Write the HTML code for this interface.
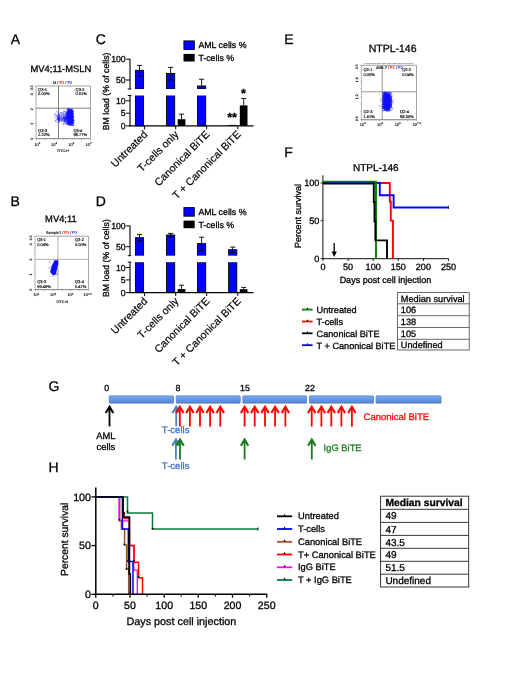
<!DOCTYPE html>
<html lang="en"><head><meta charset="utf-8"><title>Figure</title>
<style>html,body{margin:0;padding:0;background:#fff;}svg{display:block;}text{font-family:"Liberation Sans", Arial, Helvetica, sans-serif;text-rendering:geometricPrecision;}</style></head><body>
<svg width="520" height="693" viewBox="0 0 520 693">
<rect x="0" y="0" width="520" height="693" fill="#fff"/>
<g opacity="0.999">
<text x="10.8" y="44.0" font-size="14" text-anchor="start" fill="#000" stroke="#000" stroke-width="0.3">A</text>
<text x="10.4" y="205.8" font-size="14" text-anchor="start" fill="#000" stroke="#000" stroke-width="0.3">B</text>
<text x="95.8" y="44.0" font-size="14" text-anchor="start" fill="#000" stroke="#000" stroke-width="0.3">C</text>
<text x="95.8" y="205.8" font-size="14" text-anchor="start" fill="#000" stroke="#000" stroke-width="0.3">D</text>
<text x="284.2" y="44.0" font-size="14" text-anchor="start" fill="#000" stroke="#000" stroke-width="0.3">E</text>
<text x="284.2" y="156.5" font-size="14" text-anchor="start" fill="#000" stroke="#000" stroke-width="0.3">F</text>
<text x="48.5" y="391.2" font-size="14" text-anchor="start" fill="#000" stroke="#000" stroke-width="0.3">G</text>
<text x="48.5" y="471.8" font-size="14" text-anchor="start" fill="#000" stroke="#000" stroke-width="0.3">H</text>
<defs><filter id="bl" x="-30%" y="-30%" width="160%" height="160%"><feGaussianBlur stdDeviation="0.45"/></filter><filter id="bl2" x="-30%" y="-30%" width="160%" height="160%"><feGaussianBlur stdDeviation="0.8"/></filter><filter id="tb" x="-10%" y="-30%" width="120%" height="160%"><feGaussianBlur stdDeviation="0.22"/></filter></defs>
<text x="60.9" y="72.4" font-size="9.4" text-anchor="middle" fill="#000" stroke="#000" stroke-width="0.3">MV4;11-MSLN</text>
<g>
<path d="M36.2 86.0H90.5V138.5H36.2" fill="none" stroke="#8c8c8c" stroke-width="0.8"/>
<line x1="36.2" y1="86.0" x2="36.2" y2="138.5" stroke="#8c8c8c" stroke-width="0.5"/>
<line x1="58.5" y1="86.0" x2="58.5" y2="138.5" stroke="#555" stroke-width="0.75"/>
<line x1="36.2" y1="108.2" x2="90.5" y2="108.2" stroke="#555" stroke-width="0.75"/>
<text transform="translate(62.6 83.5) scale(0.39)" font-size="10" text-anchor="middle" fill="#1a1a1a" stroke="#1a1a1a" stroke-width="0.4">M / <tspan fill="#f00" stroke="#f00">P1</tspan> / <tspan fill="#22f" stroke="#22f">P2</tspan></text>
<text transform="translate(38.1 90.8) scale(0.4)" font-size="10" text-anchor="start" fill="#1a1a1a" stroke="#1a1a1a" stroke-width="0.5">Q3-1</text>
<text transform="translate(38.1 95.39999999999999) scale(0.4)" font-size="10" text-anchor="start" fill="#1a1a1a" stroke="#1a1a1a" stroke-width="0.5">0.00%</text>
<text transform="translate(75.6 90.8) scale(0.4)" font-size="10" text-anchor="start" fill="#1a1a1a" stroke="#1a1a1a" stroke-width="0.5">Q3-2</text>
<text transform="translate(75.6 95.39999999999999) scale(0.4)" font-size="10" text-anchor="start" fill="#1a1a1a" stroke="#1a1a1a" stroke-width="0.5">0.01%</text>
<text transform="translate(38.1 131.6) scale(0.4)" font-size="10" text-anchor="start" fill="#1a1a1a" stroke="#1a1a1a" stroke-width="0.5">Q3-3</text>
<text transform="translate(38.1 136.2) scale(0.4)" font-size="10" text-anchor="start" fill="#1a1a1a" stroke="#1a1a1a" stroke-width="0.5">1.22%</text>
<text transform="translate(73.4 131.6) scale(0.4)" font-size="10" text-anchor="start" fill="#1a1a1a" stroke="#1a1a1a" stroke-width="0.5">Q3-4</text>
<text transform="translate(73.4 136.2) scale(0.4)" font-size="10" text-anchor="start" fill="#1a1a1a" stroke="#1a1a1a" stroke-width="0.5">98.77%</text>
<text transform="translate(37.4 145.6) scale(0.4)" font-size="10" text-anchor="middle" fill="#1a1a1a" stroke="#1a1a1a" stroke-width="0.4">10<tspan dy="-4" font-size="7">1</tspan></text>
<text transform="translate(54.0 145.6) scale(0.4)" font-size="10" text-anchor="middle" fill="#1a1a1a" stroke="#1a1a1a" stroke-width="0.4">10<tspan dy="-4" font-size="7">3</tspan></text>
<text transform="translate(71.4 145.6) scale(0.4)" font-size="10" text-anchor="middle" fill="#1a1a1a" stroke="#1a1a1a" stroke-width="0.4">10<tspan dy="-4" font-size="7">5</tspan></text>
<text transform="translate(89.0 145.6) scale(0.4)" font-size="10" text-anchor="middle" fill="#1a1a1a" stroke="#1a1a1a" stroke-width="0.4">10<tspan dy="-4" font-size="7">7.</tspan></text>
<text transform="translate(63 151.8) scale(0.36)" font-size="10" text-anchor="middle" fill="#1a1a1a" stroke="#1a1a1a" stroke-width="0.5">FITC-H</text>
<line x1="36.2" y1="138.5" x2="36.2" y2="140.1" stroke="#444" stroke-width="0.35"/>
<line x1="37.21" y1="138.5" x2="37.21" y2="139.3" stroke="#444" stroke-width="0.35"/>
<line x1="38.21" y1="138.5" x2="38.21" y2="139.3" stroke="#444" stroke-width="0.35"/>
<line x1="39.22" y1="138.5" x2="39.22" y2="139.3" stroke="#444" stroke-width="0.35"/>
<line x1="40.22" y1="138.5" x2="40.22" y2="139.3" stroke="#444" stroke-width="0.35"/>
<line x1="41.23" y1="138.5" x2="41.23" y2="139.3" stroke="#444" stroke-width="0.35"/>
<line x1="42.23" y1="138.5" x2="42.23" y2="139.3" stroke="#444" stroke-width="0.35"/>
<line x1="43.24" y1="138.5" x2="43.24" y2="139.3" stroke="#444" stroke-width="0.35"/>
<line x1="44.24" y1="138.5" x2="44.24" y2="139.3" stroke="#444" stroke-width="0.35"/>
<line x1="45.25" y1="138.5" x2="45.25" y2="140.1" stroke="#444" stroke-width="0.35"/>
<line x1="46.26" y1="138.5" x2="46.26" y2="139.3" stroke="#444" stroke-width="0.35"/>
<line x1="47.26" y1="138.5" x2="47.26" y2="139.3" stroke="#444" stroke-width="0.35"/>
<line x1="48.27" y1="138.5" x2="48.27" y2="139.3" stroke="#444" stroke-width="0.35"/>
<line x1="49.27" y1="138.5" x2="49.27" y2="139.3" stroke="#444" stroke-width="0.35"/>
<line x1="50.28" y1="138.5" x2="50.28" y2="139.3" stroke="#444" stroke-width="0.35"/>
<line x1="51.28" y1="138.5" x2="51.28" y2="139.3" stroke="#444" stroke-width="0.35"/>
<line x1="52.29" y1="138.5" x2="52.29" y2="139.3" stroke="#444" stroke-width="0.35"/>
<line x1="53.29" y1="138.5" x2="53.29" y2="139.3" stroke="#444" stroke-width="0.35"/>
<line x1="54.3" y1="138.5" x2="54.3" y2="140.1" stroke="#444" stroke-width="0.35"/>
<line x1="55.31" y1="138.5" x2="55.31" y2="139.3" stroke="#444" stroke-width="0.35"/>
<line x1="56.31" y1="138.5" x2="56.31" y2="139.3" stroke="#444" stroke-width="0.35"/>
<line x1="57.32" y1="138.5" x2="57.32" y2="139.3" stroke="#444" stroke-width="0.35"/>
<line x1="58.32" y1="138.5" x2="58.32" y2="139.3" stroke="#444" stroke-width="0.35"/>
<line x1="59.33" y1="138.5" x2="59.33" y2="139.3" stroke="#444" stroke-width="0.35"/>
<line x1="60.33" y1="138.5" x2="60.33" y2="139.3" stroke="#444" stroke-width="0.35"/>
<line x1="61.34" y1="138.5" x2="61.34" y2="139.3" stroke="#444" stroke-width="0.35"/>
<line x1="62.34" y1="138.5" x2="62.34" y2="139.3" stroke="#444" stroke-width="0.35"/>
<line x1="63.35" y1="138.5" x2="63.35" y2="140.1" stroke="#444" stroke-width="0.35"/>
<line x1="64.36" y1="138.5" x2="64.36" y2="139.3" stroke="#444" stroke-width="0.35"/>
<line x1="65.36" y1="138.5" x2="65.36" y2="139.3" stroke="#444" stroke-width="0.35"/>
<line x1="66.37" y1="138.5" x2="66.37" y2="139.3" stroke="#444" stroke-width="0.35"/>
<line x1="67.37" y1="138.5" x2="67.37" y2="139.3" stroke="#444" stroke-width="0.35"/>
<line x1="68.38" y1="138.5" x2="68.38" y2="139.3" stroke="#444" stroke-width="0.35"/>
<line x1="69.38" y1="138.5" x2="69.38" y2="139.3" stroke="#444" stroke-width="0.35"/>
<line x1="70.39" y1="138.5" x2="70.39" y2="139.3" stroke="#444" stroke-width="0.35"/>
<line x1="71.39" y1="138.5" x2="71.39" y2="139.3" stroke="#444" stroke-width="0.35"/>
<line x1="72.4" y1="138.5" x2="72.4" y2="140.1" stroke="#444" stroke-width="0.35"/>
<line x1="73.41" y1="138.5" x2="73.41" y2="139.3" stroke="#444" stroke-width="0.35"/>
<line x1="74.41" y1="138.5" x2="74.41" y2="139.3" stroke="#444" stroke-width="0.35"/>
<line x1="75.42" y1="138.5" x2="75.42" y2="139.3" stroke="#444" stroke-width="0.35"/>
<line x1="76.42" y1="138.5" x2="76.42" y2="139.3" stroke="#444" stroke-width="0.35"/>
<line x1="77.43" y1="138.5" x2="77.43" y2="139.3" stroke="#444" stroke-width="0.35"/>
<line x1="78.43" y1="138.5" x2="78.43" y2="139.3" stroke="#444" stroke-width="0.35"/>
<line x1="79.44" y1="138.5" x2="79.44" y2="139.3" stroke="#444" stroke-width="0.35"/>
<line x1="80.44" y1="138.5" x2="80.44" y2="139.3" stroke="#444" stroke-width="0.35"/>
<line x1="81.45" y1="138.5" x2="81.45" y2="140.1" stroke="#444" stroke-width="0.35"/>
<line x1="82.46" y1="138.5" x2="82.46" y2="139.3" stroke="#444" stroke-width="0.35"/>
<line x1="83.46" y1="138.5" x2="83.46" y2="139.3" stroke="#444" stroke-width="0.35"/>
<line x1="84.47" y1="138.5" x2="84.47" y2="139.3" stroke="#444" stroke-width="0.35"/>
<line x1="85.47" y1="138.5" x2="85.47" y2="139.3" stroke="#444" stroke-width="0.35"/>
<line x1="86.48" y1="138.5" x2="86.48" y2="139.3" stroke="#444" stroke-width="0.35"/>
<line x1="87.48" y1="138.5" x2="87.48" y2="139.3" stroke="#444" stroke-width="0.35"/>
<line x1="88.49" y1="138.5" x2="88.49" y2="139.3" stroke="#444" stroke-width="0.35"/>
<line x1="89.49" y1="138.5" x2="89.49" y2="139.3" stroke="#444" stroke-width="0.35"/>
<line x1="90.5" y1="138.5" x2="90.5" y2="140.1" stroke="#444" stroke-width="0.35"/>
<line x1="34.7" y1="86.0" x2="36.2" y2="86.0" stroke="#444" stroke-width="0.35"/>
<line x1="35.4" y1="87.88" x2="36.2" y2="87.88" stroke="#444" stroke-width="0.35"/>
<line x1="35.4" y1="89.75" x2="36.2" y2="89.75" stroke="#444" stroke-width="0.35"/>
<line x1="35.4" y1="91.62" x2="36.2" y2="91.62" stroke="#444" stroke-width="0.35"/>
<line x1="34.7" y1="93.5" x2="36.2" y2="93.5" stroke="#444" stroke-width="0.35"/>
<line x1="35.4" y1="95.38" x2="36.2" y2="95.38" stroke="#444" stroke-width="0.35"/>
<line x1="35.4" y1="97.25" x2="36.2" y2="97.25" stroke="#444" stroke-width="0.35"/>
<line x1="35.4" y1="99.12" x2="36.2" y2="99.12" stroke="#444" stroke-width="0.35"/>
<line x1="34.7" y1="101.0" x2="36.2" y2="101.0" stroke="#444" stroke-width="0.35"/>
<line x1="35.4" y1="102.88" x2="36.2" y2="102.88" stroke="#444" stroke-width="0.35"/>
<line x1="35.4" y1="104.75" x2="36.2" y2="104.75" stroke="#444" stroke-width="0.35"/>
<line x1="35.4" y1="106.62" x2="36.2" y2="106.62" stroke="#444" stroke-width="0.35"/>
<line x1="34.7" y1="108.5" x2="36.2" y2="108.5" stroke="#444" stroke-width="0.35"/>
<line x1="35.4" y1="110.38" x2="36.2" y2="110.38" stroke="#444" stroke-width="0.35"/>
<line x1="35.4" y1="112.25" x2="36.2" y2="112.25" stroke="#444" stroke-width="0.35"/>
<line x1="35.4" y1="114.12" x2="36.2" y2="114.12" stroke="#444" stroke-width="0.35"/>
<line x1="34.7" y1="116.0" x2="36.2" y2="116.0" stroke="#444" stroke-width="0.35"/>
<line x1="35.4" y1="117.88" x2="36.2" y2="117.88" stroke="#444" stroke-width="0.35"/>
<line x1="35.4" y1="119.75" x2="36.2" y2="119.75" stroke="#444" stroke-width="0.35"/>
<line x1="35.4" y1="121.62" x2="36.2" y2="121.62" stroke="#444" stroke-width="0.35"/>
<line x1="34.7" y1="123.5" x2="36.2" y2="123.5" stroke="#444" stroke-width="0.35"/>
<line x1="35.4" y1="125.38" x2="36.2" y2="125.38" stroke="#444" stroke-width="0.35"/>
<line x1="35.4" y1="127.25" x2="36.2" y2="127.25" stroke="#444" stroke-width="0.35"/>
<line x1="35.4" y1="129.12" x2="36.2" y2="129.12" stroke="#444" stroke-width="0.35"/>
<line x1="34.7" y1="131.0" x2="36.2" y2="131.0" stroke="#444" stroke-width="0.35"/>
<line x1="35.4" y1="132.88" x2="36.2" y2="132.88" stroke="#444" stroke-width="0.35"/>
<line x1="35.4" y1="134.75" x2="36.2" y2="134.75" stroke="#444" stroke-width="0.35"/>
<line x1="35.4" y1="136.62" x2="36.2" y2="136.62" stroke="#444" stroke-width="0.35"/>
<line x1="34.7" y1="138.5" x2="36.2" y2="138.5" stroke="#444" stroke-width="0.35"/>
<text transform="translate(32.6 87.6) rotate(-90) scale(0.33999999999999997)" font-size="10" text-anchor="middle" fill="#1a1a1a" stroke="#1a1a1a" stroke-width="0.5">3.5</text>
<text transform="translate(32.6 94.2) rotate(-90) scale(0.33999999999999997)" font-size="10" text-anchor="middle" fill="#1a1a1a" stroke="#1a1a1a" stroke-width="0.5">3</text>
<text transform="translate(32.6 109.2) rotate(-90) scale(0.33999999999999997)" font-size="10" text-anchor="middle" fill="#1a1a1a" stroke="#1a1a1a" stroke-width="0.5">2</text>
<text transform="translate(32.6 123.8) rotate(-90) scale(0.33999999999999997)" font-size="10" text-anchor="middle" fill="#1a1a1a" stroke="#1a1a1a" stroke-width="0.5">1</text>
<text transform="translate(32.6 138.5) rotate(-90) scale(0.33999999999999997)" font-size="10" text-anchor="middle" fill="#1a1a1a" stroke="#1a1a1a" stroke-width="0.5">0</text>
</g>
<text x="60.9" y="222.2" font-size="9.4" text-anchor="middle" fill="#000" stroke="#000" stroke-width="0.3">MV4;11</text>
<g>
<path d="M35.2 236.2H88.6V289.5H35.2" fill="none" stroke="#8c8c8c" stroke-width="0.8"/>
<line x1="35.2" y1="236.2" x2="35.2" y2="289.5" stroke="#8c8c8c" stroke-width="0.5"/>
<line x1="57.9" y1="236.2" x2="57.9" y2="289.5" stroke="#9a9a9a" stroke-width="0.75"/>
<line x1="35.2" y1="259.4" x2="88.6" y2="259.4" stroke="#9a9a9a" stroke-width="0.75"/>
<text transform="translate(61.4 234.0) scale(0.39)" font-size="10" text-anchor="middle" fill="#1a1a1a" stroke="#1a1a1a" stroke-width="0.4">Sample1 / <tspan fill="#f00" stroke="#f00">P1</tspan> / <tspan fill="#22f" stroke="#22f">P2</tspan></text>
<text transform="translate(37.2 241.4) scale(0.4)" font-size="10" text-anchor="start" fill="#1a1a1a" stroke="#1a1a1a" stroke-width="0.5">Q3-1</text>
<text transform="translate(37.2 246.0) scale(0.4)" font-size="10" text-anchor="start" fill="#1a1a1a" stroke="#1a1a1a" stroke-width="0.5">0.04%</text>
<text transform="translate(75.0 241.4) scale(0.4)" font-size="10" text-anchor="start" fill="#1a1a1a" stroke="#1a1a1a" stroke-width="0.5">Q3-2</text>
<text transform="translate(75.0 246.0) scale(0.4)" font-size="10" text-anchor="start" fill="#1a1a1a" stroke="#1a1a1a" stroke-width="0.5">0.00%</text>
<text transform="translate(37.2 283.2) scale(0.4)" font-size="10" text-anchor="start" fill="#1a1a1a" stroke="#1a1a1a" stroke-width="0.5">Q3-3</text>
<text transform="translate(37.2 287.8) scale(0.4)" font-size="10" text-anchor="start" fill="#1a1a1a" stroke="#1a1a1a" stroke-width="0.5">99.49%</text>
<text transform="translate(75.0 283.2) scale(0.4)" font-size="10" text-anchor="start" fill="#1a1a1a" stroke="#1a1a1a" stroke-width="0.5">Q3-4</text>
<text transform="translate(75.0 287.8) scale(0.4)" font-size="10" text-anchor="start" fill="#1a1a1a" stroke="#1a1a1a" stroke-width="0.5">0.47%</text>
<text transform="translate(36.4 296.3) scale(0.4)" font-size="10" text-anchor="middle" fill="#1a1a1a" stroke="#1a1a1a" stroke-width="0.4">10<tspan dy="-4" font-size="7">1</tspan></text>
<text transform="translate(53.0 296.3) scale(0.4)" font-size="10" text-anchor="middle" fill="#1a1a1a" stroke="#1a1a1a" stroke-width="0.4">10<tspan dy="-4" font-size="7">3</tspan></text>
<text transform="translate(70.4 296.3) scale(0.4)" font-size="10" text-anchor="middle" fill="#1a1a1a" stroke="#1a1a1a" stroke-width="0.4">10<tspan dy="-4" font-size="7">5</tspan></text>
<text transform="translate(87.6 296.3) scale(0.4)" font-size="10" text-anchor="middle" fill="#1a1a1a" stroke="#1a1a1a" stroke-width="0.4">10<tspan dy="-4" font-size="7">7.1</tspan></text>
<text transform="translate(62.3 302.8) scale(0.36)" font-size="10" text-anchor="middle" fill="#1a1a1a" stroke="#1a1a1a" stroke-width="0.5">FITC-H</text>
<line x1="35.2" y1="289.5" x2="35.2" y2="291.1" stroke="#444" stroke-width="0.35"/>
<line x1="36.19" y1="289.5" x2="36.19" y2="290.3" stroke="#444" stroke-width="0.35"/>
<line x1="37.18" y1="289.5" x2="37.18" y2="290.3" stroke="#444" stroke-width="0.35"/>
<line x1="38.17" y1="289.5" x2="38.17" y2="290.3" stroke="#444" stroke-width="0.35"/>
<line x1="39.16" y1="289.5" x2="39.16" y2="290.3" stroke="#444" stroke-width="0.35"/>
<line x1="40.14" y1="289.5" x2="40.14" y2="290.3" stroke="#444" stroke-width="0.35"/>
<line x1="41.13" y1="289.5" x2="41.13" y2="290.3" stroke="#444" stroke-width="0.35"/>
<line x1="42.12" y1="289.5" x2="42.12" y2="290.3" stroke="#444" stroke-width="0.35"/>
<line x1="43.11" y1="289.5" x2="43.11" y2="290.3" stroke="#444" stroke-width="0.35"/>
<line x1="44.1" y1="289.5" x2="44.1" y2="291.1" stroke="#444" stroke-width="0.35"/>
<line x1="45.09" y1="289.5" x2="45.09" y2="290.3" stroke="#444" stroke-width="0.35"/>
<line x1="46.08" y1="289.5" x2="46.08" y2="290.3" stroke="#444" stroke-width="0.35"/>
<line x1="47.07" y1="289.5" x2="47.07" y2="290.3" stroke="#444" stroke-width="0.35"/>
<line x1="48.06" y1="289.5" x2="48.06" y2="290.3" stroke="#444" stroke-width="0.35"/>
<line x1="49.04" y1="289.5" x2="49.04" y2="290.3" stroke="#444" stroke-width="0.35"/>
<line x1="50.03" y1="289.5" x2="50.03" y2="290.3" stroke="#444" stroke-width="0.35"/>
<line x1="51.02" y1="289.5" x2="51.02" y2="290.3" stroke="#444" stroke-width="0.35"/>
<line x1="52.01" y1="289.5" x2="52.01" y2="290.3" stroke="#444" stroke-width="0.35"/>
<line x1="53.0" y1="289.5" x2="53.0" y2="291.1" stroke="#444" stroke-width="0.35"/>
<line x1="53.99" y1="289.5" x2="53.99" y2="290.3" stroke="#444" stroke-width="0.35"/>
<line x1="54.98" y1="289.5" x2="54.98" y2="290.3" stroke="#444" stroke-width="0.35"/>
<line x1="55.97" y1="289.5" x2="55.97" y2="290.3" stroke="#444" stroke-width="0.35"/>
<line x1="56.96" y1="289.5" x2="56.96" y2="290.3" stroke="#444" stroke-width="0.35"/>
<line x1="57.94" y1="289.5" x2="57.94" y2="290.3" stroke="#444" stroke-width="0.35"/>
<line x1="58.93" y1="289.5" x2="58.93" y2="290.3" stroke="#444" stroke-width="0.35"/>
<line x1="59.92" y1="289.5" x2="59.92" y2="290.3" stroke="#444" stroke-width="0.35"/>
<line x1="60.91" y1="289.5" x2="60.91" y2="290.3" stroke="#444" stroke-width="0.35"/>
<line x1="61.9" y1="289.5" x2="61.9" y2="291.1" stroke="#444" stroke-width="0.35"/>
<line x1="62.89" y1="289.5" x2="62.89" y2="290.3" stroke="#444" stroke-width="0.35"/>
<line x1="63.88" y1="289.5" x2="63.88" y2="290.3" stroke="#444" stroke-width="0.35"/>
<line x1="64.87" y1="289.5" x2="64.87" y2="290.3" stroke="#444" stroke-width="0.35"/>
<line x1="65.86" y1="289.5" x2="65.86" y2="290.3" stroke="#444" stroke-width="0.35"/>
<line x1="66.84" y1="289.5" x2="66.84" y2="290.3" stroke="#444" stroke-width="0.35"/>
<line x1="67.83" y1="289.5" x2="67.83" y2="290.3" stroke="#444" stroke-width="0.35"/>
<line x1="68.82" y1="289.5" x2="68.82" y2="290.3" stroke="#444" stroke-width="0.35"/>
<line x1="69.81" y1="289.5" x2="69.81" y2="290.3" stroke="#444" stroke-width="0.35"/>
<line x1="70.8" y1="289.5" x2="70.8" y2="291.1" stroke="#444" stroke-width="0.35"/>
<line x1="71.79" y1="289.5" x2="71.79" y2="290.3" stroke="#444" stroke-width="0.35"/>
<line x1="72.78" y1="289.5" x2="72.78" y2="290.3" stroke="#444" stroke-width="0.35"/>
<line x1="73.77" y1="289.5" x2="73.77" y2="290.3" stroke="#444" stroke-width="0.35"/>
<line x1="74.76" y1="289.5" x2="74.76" y2="290.3" stroke="#444" stroke-width="0.35"/>
<line x1="75.74" y1="289.5" x2="75.74" y2="290.3" stroke="#444" stroke-width="0.35"/>
<line x1="76.73" y1="289.5" x2="76.73" y2="290.3" stroke="#444" stroke-width="0.35"/>
<line x1="77.72" y1="289.5" x2="77.72" y2="290.3" stroke="#444" stroke-width="0.35"/>
<line x1="78.71" y1="289.5" x2="78.71" y2="290.3" stroke="#444" stroke-width="0.35"/>
<line x1="79.7" y1="289.5" x2="79.7" y2="291.1" stroke="#444" stroke-width="0.35"/>
<line x1="80.69" y1="289.5" x2="80.69" y2="290.3" stroke="#444" stroke-width="0.35"/>
<line x1="81.68" y1="289.5" x2="81.68" y2="290.3" stroke="#444" stroke-width="0.35"/>
<line x1="82.67" y1="289.5" x2="82.67" y2="290.3" stroke="#444" stroke-width="0.35"/>
<line x1="83.66" y1="289.5" x2="83.66" y2="290.3" stroke="#444" stroke-width="0.35"/>
<line x1="84.64" y1="289.5" x2="84.64" y2="290.3" stroke="#444" stroke-width="0.35"/>
<line x1="85.63" y1="289.5" x2="85.63" y2="290.3" stroke="#444" stroke-width="0.35"/>
<line x1="86.62" y1="289.5" x2="86.62" y2="290.3" stroke="#444" stroke-width="0.35"/>
<line x1="87.61" y1="289.5" x2="87.61" y2="290.3" stroke="#444" stroke-width="0.35"/>
<line x1="88.6" y1="289.5" x2="88.6" y2="291.1" stroke="#444" stroke-width="0.35"/>
<line x1="33.7" y1="236.2" x2="35.2" y2="236.2" stroke="#444" stroke-width="0.35"/>
<line x1="34.4" y1="238.1" x2="35.2" y2="238.1" stroke="#444" stroke-width="0.35"/>
<line x1="34.4" y1="240.01" x2="35.2" y2="240.01" stroke="#444" stroke-width="0.35"/>
<line x1="34.4" y1="241.91" x2="35.2" y2="241.91" stroke="#444" stroke-width="0.35"/>
<line x1="33.7" y1="243.81" x2="35.2" y2="243.81" stroke="#444" stroke-width="0.35"/>
<line x1="34.4" y1="245.72" x2="35.2" y2="245.72" stroke="#444" stroke-width="0.35"/>
<line x1="34.4" y1="247.62" x2="35.2" y2="247.62" stroke="#444" stroke-width="0.35"/>
<line x1="34.4" y1="249.52" x2="35.2" y2="249.52" stroke="#444" stroke-width="0.35"/>
<line x1="33.7" y1="251.43" x2="35.2" y2="251.43" stroke="#444" stroke-width="0.35"/>
<line x1="34.4" y1="253.33" x2="35.2" y2="253.33" stroke="#444" stroke-width="0.35"/>
<line x1="34.4" y1="255.24" x2="35.2" y2="255.24" stroke="#444" stroke-width="0.35"/>
<line x1="34.4" y1="257.14" x2="35.2" y2="257.14" stroke="#444" stroke-width="0.35"/>
<line x1="33.7" y1="259.04" x2="35.2" y2="259.04" stroke="#444" stroke-width="0.35"/>
<line x1="34.4" y1="260.95" x2="35.2" y2="260.95" stroke="#444" stroke-width="0.35"/>
<line x1="34.4" y1="262.85" x2="35.2" y2="262.85" stroke="#444" stroke-width="0.35"/>
<line x1="34.4" y1="264.75" x2="35.2" y2="264.75" stroke="#444" stroke-width="0.35"/>
<line x1="33.7" y1="266.66" x2="35.2" y2="266.66" stroke="#444" stroke-width="0.35"/>
<line x1="34.4" y1="268.56" x2="35.2" y2="268.56" stroke="#444" stroke-width="0.35"/>
<line x1="34.4" y1="270.46" x2="35.2" y2="270.46" stroke="#444" stroke-width="0.35"/>
<line x1="34.4" y1="272.37" x2="35.2" y2="272.37" stroke="#444" stroke-width="0.35"/>
<line x1="33.7" y1="274.27" x2="35.2" y2="274.27" stroke="#444" stroke-width="0.35"/>
<line x1="34.4" y1="276.18" x2="35.2" y2="276.18" stroke="#444" stroke-width="0.35"/>
<line x1="34.4" y1="278.08" x2="35.2" y2="278.08" stroke="#444" stroke-width="0.35"/>
<line x1="34.4" y1="279.98" x2="35.2" y2="279.98" stroke="#444" stroke-width="0.35"/>
<line x1="33.7" y1="281.89" x2="35.2" y2="281.89" stroke="#444" stroke-width="0.35"/>
<line x1="34.4" y1="283.79" x2="35.2" y2="283.79" stroke="#444" stroke-width="0.35"/>
<line x1="34.4" y1="285.69" x2="35.2" y2="285.69" stroke="#444" stroke-width="0.35"/>
<line x1="34.4" y1="287.6" x2="35.2" y2="287.6" stroke="#444" stroke-width="0.35"/>
<line x1="33.7" y1="289.5" x2="35.2" y2="289.5" stroke="#444" stroke-width="0.35"/>
<text transform="translate(31.6 237.8) rotate(-90) scale(0.33999999999999997)" font-size="10" text-anchor="middle" fill="#1a1a1a" stroke="#1a1a1a" stroke-width="0.5">3.5</text>
<text transform="translate(31.6 244.2) rotate(-90) scale(0.33999999999999997)" font-size="10" text-anchor="middle" fill="#1a1a1a" stroke="#1a1a1a" stroke-width="0.5">3</text>
<text transform="translate(31.6 259.6) rotate(-90) scale(0.33999999999999997)" font-size="10" text-anchor="middle" fill="#1a1a1a" stroke="#1a1a1a" stroke-width="0.5">2</text>
<text transform="translate(31.6 274.6) rotate(-90) scale(0.33999999999999997)" font-size="10" text-anchor="middle" fill="#1a1a1a" stroke="#1a1a1a" stroke-width="0.5">1</text>
<text transform="translate(31.6 289.5) rotate(-90) scale(0.33999999999999997)" font-size="10" text-anchor="middle" fill="#1a1a1a" stroke="#1a1a1a" stroke-width="0.5">0</text>
</g>
<text x="392.6" y="51.9" font-size="10.5" text-anchor="middle" fill="#000" stroke="#000" stroke-width="0.3">NTPL-146</text>
<g>
<path d="M361.6 65.3H416.5V119.6H361.6" fill="none" stroke="#8c8c8c" stroke-width="0.8"/>
<line x1="361.6" y1="65.3" x2="361.6" y2="119.6" stroke="#8c8c8c" stroke-width="0.5"/>
<line x1="382.2" y1="65.3" x2="382.2" y2="119.6" stroke="#707070" stroke-width="0.75"/>
<line x1="361.6" y1="91.8" x2="416.5" y2="91.8" stroke="#707070" stroke-width="0.75"/>
<text transform="translate(389.4 68.8) scale(0.39)" font-size="10" text-anchor="middle" fill="#1a1a1a" stroke="#1a1a1a" stroke-width="0.4">4M8.7 / <tspan fill="#f00" stroke="#f00">P1</tspan> / <tspan fill="#22f" stroke="#22f">P2</tspan></text>
<text transform="translate(363.5 71.0) scale(0.4)" font-size="10" text-anchor="start" fill="#1a1a1a" stroke="#1a1a1a" stroke-width="0.5">Q2-1</text>
<text transform="translate(363.5 75.6) scale(0.4)" font-size="10" text-anchor="start" fill="#1a1a1a" stroke="#1a1a1a" stroke-width="0.5">0.00%</text>
<text transform="translate(402.2 71.0) scale(0.4)" font-size="10" text-anchor="start" fill="#1a1a1a" stroke="#1a1a1a" stroke-width="0.5">Q2-2</text>
<text transform="translate(402.2 75.6) scale(0.4)" font-size="10" text-anchor="start" fill="#1a1a1a" stroke="#1a1a1a" stroke-width="0.5">0.04%</text>
<text transform="translate(363.5 113.0) scale(0.4)" font-size="10" text-anchor="start" fill="#1a1a1a" stroke="#1a1a1a" stroke-width="0.5">Q2-3</text>
<text transform="translate(363.5 117.6) scale(0.4)" font-size="10" text-anchor="start" fill="#1a1a1a" stroke="#1a1a1a" stroke-width="0.5">1.61%</text>
<text transform="translate(400.0 113.0) scale(0.4)" font-size="10" text-anchor="start" fill="#1a1a1a" stroke="#1a1a1a" stroke-width="0.5">Q2-4</text>
<text transform="translate(400.0 117.6) scale(0.4)" font-size="10" text-anchor="start" fill="#1a1a1a" stroke="#1a1a1a" stroke-width="0.5">98.35%</text>
<text transform="translate(362.8 125.9) scale(0.4)" font-size="10" text-anchor="middle" fill="#1a1a1a" stroke="#1a1a1a" stroke-width="0.4">10<tspan dy="-4" font-size="7">1</tspan></text>
<text transform="translate(380.0 125.9) scale(0.4)" font-size="10" text-anchor="middle" fill="#1a1a1a" stroke="#1a1a1a" stroke-width="0.4">10<tspan dy="-4" font-size="7">3</tspan></text>
<text transform="translate(397.8 125.9) scale(0.4)" font-size="10" text-anchor="middle" fill="#1a1a1a" stroke="#1a1a1a" stroke-width="0.4">10<tspan dy="-4" font-size="7">5</tspan></text>
<text transform="translate(416.8 125.9) scale(0.4)" font-size="10" text-anchor="middle" fill="#1a1a1a" stroke="#1a1a1a" stroke-width="0.4">10<tspan dy="-4" font-size="7">7.2</tspan></text>
<line x1="361.6" y1="119.6" x2="361.6" y2="121.19999999999999" stroke="#444" stroke-width="0.35"/>
<line x1="362.62" y1="119.6" x2="362.62" y2="120.39999999999999" stroke="#444" stroke-width="0.35"/>
<line x1="363.63" y1="119.6" x2="363.63" y2="120.39999999999999" stroke="#444" stroke-width="0.35"/>
<line x1="364.65" y1="119.6" x2="364.65" y2="120.39999999999999" stroke="#444" stroke-width="0.35"/>
<line x1="365.67" y1="119.6" x2="365.67" y2="120.39999999999999" stroke="#444" stroke-width="0.35"/>
<line x1="366.68" y1="119.6" x2="366.68" y2="120.39999999999999" stroke="#444" stroke-width="0.35"/>
<line x1="367.7" y1="119.6" x2="367.7" y2="120.39999999999999" stroke="#444" stroke-width="0.35"/>
<line x1="368.72" y1="119.6" x2="368.72" y2="120.39999999999999" stroke="#444" stroke-width="0.35"/>
<line x1="369.73" y1="119.6" x2="369.73" y2="120.39999999999999" stroke="#444" stroke-width="0.35"/>
<line x1="370.75" y1="119.6" x2="370.75" y2="121.19999999999999" stroke="#444" stroke-width="0.35"/>
<line x1="371.77" y1="119.6" x2="371.77" y2="120.39999999999999" stroke="#444" stroke-width="0.35"/>
<line x1="372.78" y1="119.6" x2="372.78" y2="120.39999999999999" stroke="#444" stroke-width="0.35"/>
<line x1="373.8" y1="119.6" x2="373.8" y2="120.39999999999999" stroke="#444" stroke-width="0.35"/>
<line x1="374.82" y1="119.6" x2="374.82" y2="120.39999999999999" stroke="#444" stroke-width="0.35"/>
<line x1="375.83" y1="119.6" x2="375.83" y2="120.39999999999999" stroke="#444" stroke-width="0.35"/>
<line x1="376.85" y1="119.6" x2="376.85" y2="120.39999999999999" stroke="#444" stroke-width="0.35"/>
<line x1="377.87" y1="119.6" x2="377.87" y2="120.39999999999999" stroke="#444" stroke-width="0.35"/>
<line x1="378.88" y1="119.6" x2="378.88" y2="120.39999999999999" stroke="#444" stroke-width="0.35"/>
<line x1="379.9" y1="119.6" x2="379.9" y2="121.19999999999999" stroke="#444" stroke-width="0.35"/>
<line x1="380.92" y1="119.6" x2="380.92" y2="120.39999999999999" stroke="#444" stroke-width="0.35"/>
<line x1="381.93" y1="119.6" x2="381.93" y2="120.39999999999999" stroke="#444" stroke-width="0.35"/>
<line x1="382.95" y1="119.6" x2="382.95" y2="120.39999999999999" stroke="#444" stroke-width="0.35"/>
<line x1="383.97" y1="119.6" x2="383.97" y2="120.39999999999999" stroke="#444" stroke-width="0.35"/>
<line x1="384.98" y1="119.6" x2="384.98" y2="120.39999999999999" stroke="#444" stroke-width="0.35"/>
<line x1="386.0" y1="119.6" x2="386.0" y2="120.39999999999999" stroke="#444" stroke-width="0.35"/>
<line x1="387.02" y1="119.6" x2="387.02" y2="120.39999999999999" stroke="#444" stroke-width="0.35"/>
<line x1="388.03" y1="119.6" x2="388.03" y2="120.39999999999999" stroke="#444" stroke-width="0.35"/>
<line x1="389.05" y1="119.6" x2="389.05" y2="121.19999999999999" stroke="#444" stroke-width="0.35"/>
<line x1="390.07" y1="119.6" x2="390.07" y2="120.39999999999999" stroke="#444" stroke-width="0.35"/>
<line x1="391.08" y1="119.6" x2="391.08" y2="120.39999999999999" stroke="#444" stroke-width="0.35"/>
<line x1="392.1" y1="119.6" x2="392.1" y2="120.39999999999999" stroke="#444" stroke-width="0.35"/>
<line x1="393.12" y1="119.6" x2="393.12" y2="120.39999999999999" stroke="#444" stroke-width="0.35"/>
<line x1="394.13" y1="119.6" x2="394.13" y2="120.39999999999999" stroke="#444" stroke-width="0.35"/>
<line x1="395.15" y1="119.6" x2="395.15" y2="120.39999999999999" stroke="#444" stroke-width="0.35"/>
<line x1="396.17" y1="119.6" x2="396.17" y2="120.39999999999999" stroke="#444" stroke-width="0.35"/>
<line x1="397.18" y1="119.6" x2="397.18" y2="120.39999999999999" stroke="#444" stroke-width="0.35"/>
<line x1="398.2" y1="119.6" x2="398.2" y2="121.19999999999999" stroke="#444" stroke-width="0.35"/>
<line x1="399.22" y1="119.6" x2="399.22" y2="120.39999999999999" stroke="#444" stroke-width="0.35"/>
<line x1="400.23" y1="119.6" x2="400.23" y2="120.39999999999999" stroke="#444" stroke-width="0.35"/>
<line x1="401.25" y1="119.6" x2="401.25" y2="120.39999999999999" stroke="#444" stroke-width="0.35"/>
<line x1="402.27" y1="119.6" x2="402.27" y2="120.39999999999999" stroke="#444" stroke-width="0.35"/>
<line x1="403.28" y1="119.6" x2="403.28" y2="120.39999999999999" stroke="#444" stroke-width="0.35"/>
<line x1="404.3" y1="119.6" x2="404.3" y2="120.39999999999999" stroke="#444" stroke-width="0.35"/>
<line x1="405.32" y1="119.6" x2="405.32" y2="120.39999999999999" stroke="#444" stroke-width="0.35"/>
<line x1="406.33" y1="119.6" x2="406.33" y2="120.39999999999999" stroke="#444" stroke-width="0.35"/>
<line x1="407.35" y1="119.6" x2="407.35" y2="121.19999999999999" stroke="#444" stroke-width="0.35"/>
<line x1="408.37" y1="119.6" x2="408.37" y2="120.39999999999999" stroke="#444" stroke-width="0.35"/>
<line x1="409.38" y1="119.6" x2="409.38" y2="120.39999999999999" stroke="#444" stroke-width="0.35"/>
<line x1="410.4" y1="119.6" x2="410.4" y2="120.39999999999999" stroke="#444" stroke-width="0.35"/>
<line x1="411.42" y1="119.6" x2="411.42" y2="120.39999999999999" stroke="#444" stroke-width="0.35"/>
<line x1="412.43" y1="119.6" x2="412.43" y2="120.39999999999999" stroke="#444" stroke-width="0.35"/>
<line x1="413.45" y1="119.6" x2="413.45" y2="120.39999999999999" stroke="#444" stroke-width="0.35"/>
<line x1="414.47" y1="119.6" x2="414.47" y2="120.39999999999999" stroke="#444" stroke-width="0.35"/>
<line x1="415.48" y1="119.6" x2="415.48" y2="120.39999999999999" stroke="#444" stroke-width="0.35"/>
<line x1="416.5" y1="119.6" x2="416.5" y2="121.19999999999999" stroke="#444" stroke-width="0.35"/>
<line x1="360.1" y1="65.3" x2="361.6" y2="65.3" stroke="#444" stroke-width="0.35"/>
<line x1="360.8" y1="67.24" x2="361.6" y2="67.24" stroke="#444" stroke-width="0.35"/>
<line x1="360.8" y1="69.18" x2="361.6" y2="69.18" stroke="#444" stroke-width="0.35"/>
<line x1="360.8" y1="71.12" x2="361.6" y2="71.12" stroke="#444" stroke-width="0.35"/>
<line x1="360.1" y1="73.06" x2="361.6" y2="73.06" stroke="#444" stroke-width="0.35"/>
<line x1="360.8" y1="75.0" x2="361.6" y2="75.0" stroke="#444" stroke-width="0.35"/>
<line x1="360.8" y1="76.94" x2="361.6" y2="76.94" stroke="#444" stroke-width="0.35"/>
<line x1="360.8" y1="78.88" x2="361.6" y2="78.88" stroke="#444" stroke-width="0.35"/>
<line x1="360.1" y1="80.81" x2="361.6" y2="80.81" stroke="#444" stroke-width="0.35"/>
<line x1="360.8" y1="82.75" x2="361.6" y2="82.75" stroke="#444" stroke-width="0.35"/>
<line x1="360.8" y1="84.69" x2="361.6" y2="84.69" stroke="#444" stroke-width="0.35"/>
<line x1="360.8" y1="86.63" x2="361.6" y2="86.63" stroke="#444" stroke-width="0.35"/>
<line x1="360.1" y1="88.57" x2="361.6" y2="88.57" stroke="#444" stroke-width="0.35"/>
<line x1="360.8" y1="90.51" x2="361.6" y2="90.51" stroke="#444" stroke-width="0.35"/>
<line x1="360.8" y1="92.45" x2="361.6" y2="92.45" stroke="#444" stroke-width="0.35"/>
<line x1="360.8" y1="94.39" x2="361.6" y2="94.39" stroke="#444" stroke-width="0.35"/>
<line x1="360.1" y1="96.33" x2="361.6" y2="96.33" stroke="#444" stroke-width="0.35"/>
<line x1="360.8" y1="98.27" x2="361.6" y2="98.27" stroke="#444" stroke-width="0.35"/>
<line x1="360.8" y1="100.21" x2="361.6" y2="100.21" stroke="#444" stroke-width="0.35"/>
<line x1="360.8" y1="102.15" x2="361.6" y2="102.15" stroke="#444" stroke-width="0.35"/>
<line x1="360.1" y1="104.09" x2="361.6" y2="104.09" stroke="#444" stroke-width="0.35"/>
<line x1="360.8" y1="106.03" x2="361.6" y2="106.03" stroke="#444" stroke-width="0.35"/>
<line x1="360.8" y1="107.96" x2="361.6" y2="107.96" stroke="#444" stroke-width="0.35"/>
<line x1="360.8" y1="109.9" x2="361.6" y2="109.9" stroke="#444" stroke-width="0.35"/>
<line x1="360.1" y1="111.84" x2="361.6" y2="111.84" stroke="#444" stroke-width="0.35"/>
<line x1="360.8" y1="113.78" x2="361.6" y2="113.78" stroke="#444" stroke-width="0.35"/>
<line x1="360.8" y1="115.72" x2="361.6" y2="115.72" stroke="#444" stroke-width="0.35"/>
<line x1="360.8" y1="117.66" x2="361.6" y2="117.66" stroke="#444" stroke-width="0.35"/>
<line x1="360.1" y1="119.6" x2="361.6" y2="119.6" stroke="#444" stroke-width="0.35"/>
<text transform="translate(358.2 66.6) rotate(-90) scale(0.33999999999999997)" font-size="10" text-anchor="middle" fill="#1a1a1a" stroke="#1a1a1a" stroke-width="0.5">2.5</text>
<text transform="translate(358.2 79.8) rotate(-90) scale(0.33999999999999997)" font-size="10" text-anchor="middle" fill="#1a1a1a" stroke="#1a1a1a" stroke-width="0.5">1.8</text>
<text transform="translate(358.2 96.8) rotate(-90) scale(0.33999999999999997)" font-size="10" text-anchor="middle" fill="#1a1a1a" stroke="#1a1a1a" stroke-width="0.5">1.2</text>
<text transform="translate(358.2 118.6) rotate(-90) scale(0.33999999999999997)" font-size="10" text-anchor="middle" fill="#1a1a1a" stroke="#1a1a1a" stroke-width="0.5">0.6</text>
</g>
<line x1="364.4" y1="63.6" x2="414" y2="63.6" stroke="#444" stroke-width="0.6" stroke-dasharray="1.2 0.5 0.6 0.4 2 0.5"/>
<g filter="url(#bl)">
<path d="M61.2 118.7h.01M61.3 115.9h.01M58.9 116.3h.01M65.7 118.4h.01M65.4 117.8h.01M63.3 117.6h.01M56.5 119.9h.01M63.7 118.7h.01M56.4 111.1h.01M59.1 115.4h.01M63.0 116.8h.01M63.7 114.8h.01M63.0 118.3h.01M59.8 122.8h.01M63.8 121.1h.01M60.0 114.5h.01M60.9 116.6h.01M64.1 117.8h.01M60.5 113.7h.01M60.3 121.2h.01M59.3 117.8h.01M63.4 111.9h.01M62.2 121.4h.01M55.4 115.9h.01M61.6 114.2h.01M63.6 116.8h.01M57.2 119.8h.01M64.2 120.2h.01M66.8 118.2h.01M62.4 112.6h.01M64.0 114.9h.01M60.5 112.7h.01M58.8 115.2h.01M66.3 110.1h.01M57.2 117.8h.01M66.8 119.0h.01M63.2 114.5h.01M58.3 120.3h.01M65.6 117.5h.01M62.8 118.5h.01M67.3 119.1h.01M63.7 118.9h.01M56.8 121.4h.01M65.2 118.8h.01M55.5 114.8h.01M64.8 110.8h.01M61.4 120.5h.01M57.7 122.5h.01M63.8 116.5h.01M63.1 119.2h.01M62.4 120.9h.01M59.8 115.6h.01M65.4 117.1h.01M59.1 120.2h.01M66.8 115.5h.01M57.4 116.5h.01M61.5 116.0h.01M66.6 113.5h.01M66.2 112.7h.01M59.4 119.1h.01M65.7 119.9h.01M63.1 117.5h.01M62.5 119.0h.01M61.4 117.9h.01M63.9 117.0h.01M64.5 118.9h.01M60.6 115.7h.01M62.0 120.1h.01M60.9 118.3h.01M58.3 117.8h.01M63.3 117.8h.01M60.6 119.2h.01M62.9 115.2h.01M60.2 116.7h.01M61.3 116.8h.01M65.3 113.0h.01M61.8 120.2h.01M64.8 122.1h.01M56.4 115.8h.01M60.9 119.1h.01M65.6 112.1h.01M64.3 111.9h.01M62.6 121.1h.01M61.5 117.6h.01M64.6 117.5h.01M61.7 122.2h.01M65.5 116.0h.01M65.0 116.1h.01M62.4 119.4h.01M62.7 119.2h.01M57.0 111.9h.01M64.0 113.7h.01M58.6 112.0h.01M66.2 119.5h.01M66.9 113.8h.01M62.0 113.1h.01M64.5 122.4h.01M59.1 122.3h.01M65.3 116.4h.01M55.5 121.8h.01M61.7 115.0h.01M63.3 118.4h.01M66.9 113.5h.01M65.7 122.1h.01M66.8 116.4h.01M59.5 120.5h.01M62.4 117.4h.01M66.7 116.1h.01M54.4 115.7h.01M55.9 119.8h.01M63.0 114.9h.01M62.0 119.8h.01M62.3 121.5h.01M61.8 120.5h.01M66.9 122.5h.01M59.8 120.0h.01M55.8 113.3h.01M55.5 120.6h.01M57.9 117.0h.01M61.4 116.9h.01M60.0 117.8h.01M63.8 120.4h.01M61.3 112.7h.01M60.2 120.7h.01M56.6 115.0h.01M65.3 119.7h.01M62.0 119.7h.01M62.5 113.0h.01M56.8 114.8h.01M65.0 115.1h.01M59.0 114.4h.01M56.9 116.6h.01M58.1 118.2h.01M54.2 118.1h.01M59.9 110.4h.01M64.4 116.1h.01M54.6 114.0h.01M63.0 115.4h.01M64.6 119.5h.01M64.2 118.1h.01M66.4 119.2h.01M63.5 109.9h.01M65.0 121.5h.01M61.0 115.4h.01M58.9 119.3h.01M63.9 120.1h.01M59.0 116.7h.01M63.0 119.8h.01M61.9 116.3h.01M58.6 115.8h.01M64.9 117.3h.01M59.2 114.1h.01M64.1 118.6h.01M61.8 118.8h.01M55.6 120.5h.01M63.1 114.6h.01M66.4 123.2h.01M57.4 114.7h.01M63.0 117.6h.01M60.7 113.7h.01M58.1 112.4h.01M59.1 117.9h.01M54.9 114.5h.01M61.8 118.8h.01M59.6 116.6h.01M63.5 118.3h.01M64.1 117.7h.01M60.9 119.7h.01M62.2 114.2h.01M59.9 117.0h.01M61.6 117.5h.01M62.0 117.6h.01M61.6 112.7h.01M63.4 120.6h.01M63.4 116.4h.01M63.5 113.7h.01M55.7 117.2h.01M58.9 119.5h.01M58.6 122.4h.01M60.7 112.3h.01M59.5 118.8h.01M63.6 117.6h.01M66.9 119.4h.01M61.9 119.0h.01M67.5 120.3h.01M65.4 113.3h.01M61.5 119.5h.01M61.0 120.6h.01M64.0 120.1h.01M66.1 116.3h.01" stroke="#1c1cff" stroke-width="0.9" stroke-linecap="round" fill="none" opacity="0.45"/>
<path d="M58.3 120.5h.01M59.5 118.6h.01M57.5 119.0h.01M58.9 121.1h.01M59.3 118.7h.01M59.4 119.8h.01M58.8 118.7h.01M58.4 120.1h.01M57.7 117.2h.01M58.6 115.4h.01M58.2 114.2h.01M58.0 119.9h.01M59.1 118.5h.01M58.4 115.5h.01M60.2 119.7h.01M59.6 116.7h.01M58.4 114.6h.01M59.3 120.7h.01M56.9 118.5h.01M59.2 114.7h.01M57.0 116.3h.01M58.0 115.5h.01M58.6 119.1h.01M59.2 120.1h.01M60.0 121.2h.01M57.4 117.5h.01M57.6 116.2h.01M58.5 118.6h.01M59.0 115.1h.01M57.5 118.5h.01M58.4 117.9h.01M58.5 116.9h.01M59.2 119.4h.01M58.5 117.1h.01M58.4 112.6h.01M57.7 118.7h.01M57.2 119.0h.01M58.7 115.6h.01M58.4 117.9h.01M59.0 119.9h.01M58.6 116.7h.01M58.5 118.5h.01M59.3 119.2h.01M57.9 115.6h.01M58.3 117.0h.01M57.6 118.3h.01M58.2 118.8h.01M59.1 117.7h.01M60.7 117.9h.01M59.6 118.9h.01M59.6 113.4h.01M57.9 119.1h.01M58.9 121.4h.01M59.3 120.7h.01M59.1 118.3h.01M59.1 116.2h.01M59.7 116.4h.01M58.4 118.6h.01M59.6 118.7h.01M57.9 119.2h.01M59.1 120.2h.01M57.9 122.5h.01M60.1 118.6h.01M58.8 117.7h.01M59.9 117.0h.01M59.2 117.5h.01M58.0 120.2h.01M59.8 118.6h.01" stroke="#1c1cff" stroke-width="0.9" stroke-linecap="round" fill="none" opacity="0.55"/>
<path d="M64.7 121.3h.01M65.3 119.6h.01M67.1 122.3h.01M65.4 121.2h.01M64.7 118.3h.01M63.5 124.6h.01M66.9 114.4h.01M63.7 113.0h.01M66.7 116.9h.01M65.3 117.4h.01M65.3 114.8h.01M65.4 113.6h.01M65.3 119.5h.01M65.9 117.7h.01M64.4 119.0h.01M64.9 123.8h.01M66.2 118.1h.01M64.9 116.1h.01M64.4 117.3h.01M65.7 120.3h.01M64.6 118.5h.01M64.8 119.1h.01M65.6 119.9h.01M65.1 119.7h.01M65.5 121.1h.01M63.3 115.5h.01M65.4 115.0h.01M64.3 120.6h.01M64.7 120.7h.01M66.2 119.5h.01M66.0 118.1h.01M63.8 118.4h.01M65.9 116.7h.01M65.3 121.0h.01M64.4 120.7h.01M67.4 116.6h.01M65.6 118.0h.01M67.1 119.6h.01M66.4 116.2h.01M65.4 118.5h.01M63.4 123.4h.01M66.4 112.6h.01M66.2 118.1h.01M65.9 119.7h.01M63.8 117.8h.01M67.0 116.5h.01M64.3 113.9h.01M64.1 119.6h.01M67.3 120.0h.01M64.8 116.2h.01M66.0 120.4h.01M64.3 114.5h.01M65.7 119.3h.01M64.0 117.8h.01M64.8 120.1h.01M65.3 118.2h.01M65.0 122.1h.01M66.9 117.3h.01M66.3 115.9h.01M65.5 121.0h.01M67.1 117.2h.01M65.3 119.2h.01M63.8 118.6h.01M64.7 119.8h.01M64.2 111.8h.01M65.4 119.4h.01M64.8 121.5h.01M65.1 116.4h.01M65.9 113.2h.01M64.7 118.4h.01M66.3 117.9h.01M65.7 116.3h.01M65.7 124.2h.01M64.7 118.6h.01M65.6 122.0h.01M64.0 111.4h.01M66.1 121.2h.01M65.6 119.4h.01M66.4 119.8h.01M67.2 114.3h.01M66.3 117.2h.01M65.4 117.6h.01M64.9 115.7h.01M64.7 120.7h.01M65.4 118.7h.01M65.2 121.6h.01M65.9 118.0h.01M66.1 118.0h.01M64.1 123.4h.01M65.9 115.2h.01M66.6 119.7h.01M63.7 124.0h.01M65.8 121.5h.01M65.6 118.0h.01M63.7 121.8h.01M65.4 117.5h.01M65.8 118.8h.01M66.1 117.2h.01M65.4 111.2h.01M64.9 120.8h.01M66.9 117.3h.01M65.3 123.9h.01" stroke="#1c1cff" stroke-width="0.9" stroke-linecap="round" fill="none" opacity="0.55"/>
<rect x="67.4" y="110" width="5.6" height="14.4" rx="2.4" ry="2.8" fill="#0808f8"/>
<path d="M69.5 120.6h.01M73.3 117.4h.01M72.4 113.9h.01M70.5 116.8h.01M70.3 122.4h.01M69.0 119.5h.01M68.1 119.5h.01M71.2 115.9h.01M71.1 110.1h.01M71.5 110.1h.01M68.8 114.6h.01M69.3 121.2h.01M70.3 115.4h.01M71.1 124.5h.01M70.1 118.9h.01M72.5 118.4h.01M70.0 119.1h.01M71.9 120.3h.01M69.6 112.4h.01M70.3 122.0h.01M68.0 112.5h.01M69.6 115.2h.01M71.0 114.0h.01M68.4 115.4h.01M70.0 114.1h.01M70.1 120.7h.01M72.4 125.0h.01M68.6 115.3h.01M68.7 117.0h.01M71.1 111.0h.01M71.0 117.1h.01M66.6 118.5h.01M71.6 118.2h.01M71.0 119.2h.01M72.6 116.2h.01M71.8 115.3h.01M71.5 113.5h.01M69.9 125.2h.01M70.9 116.5h.01M67.9 113.6h.01M70.5 121.5h.01M70.9 119.6h.01M70.0 123.4h.01M69.4 114.7h.01M71.8 117.5h.01M69.6 114.5h.01M69.6 120.1h.01M70.8 111.6h.01M70.9 118.0h.01M68.2 120.8h.01M69.6 115.7h.01M71.6 123.3h.01M68.8 119.2h.01M69.2 122.7h.01M68.9 120.9h.01M69.3 119.5h.01M69.9 114.1h.01M67.0 121.1h.01M66.8 122.5h.01M69.0 117.9h.01M72.5 117.7h.01M67.5 109.4h.01M72.3 120.6h.01M68.6 121.2h.01M71.0 120.2h.01M71.8 120.6h.01M70.4 119.5h.01M69.5 117.4h.01M71.8 115.2h.01M72.3 113.6h.01M70.6 114.8h.01M70.4 114.0h.01M67.1 122.2h.01M70.7 114.6h.01M70.5 121.8h.01M68.2 116.7h.01M71.1 119.6h.01M72.5 118.7h.01M70.1 115.9h.01M70.6 115.2h.01M68.2 113.8h.01M69.0 114.4h.01M67.9 120.1h.01M67.6 120.2h.01M68.2 118.8h.01M72.7 118.1h.01M68.7 117.4h.01M70.4 109.2h.01M68.9 117.9h.01M69.2 117.6h.01M71.5 120.7h.01M71.8 119.9h.01M69.6 117.1h.01M69.6 115.8h.01M69.8 109.3h.01M69.5 117.1h.01M68.2 117.1h.01M71.1 116.4h.01M69.7 108.8h.01M71.1 115.8h.01M71.7 118.9h.01M70.1 114.5h.01M71.3 115.0h.01M70.5 114.9h.01M70.5 120.7h.01M68.4 117.0h.01M71.3 117.9h.01M71.7 124.2h.01M71.9 120.9h.01M68.9 113.9h.01M71.8 113.0h.01M66.7 112.6h.01M68.8 113.8h.01M70.5 113.8h.01M72.6 116.8h.01M68.0 123.2h.01M69.0 118.2h.01M70.1 115.8h.01M70.7 114.0h.01M67.7 113.7h.01M70.1 117.5h.01M71.2 117.8h.01M68.6 113.9h.01M71.0 119.6h.01M69.9 116.4h.01M71.9 117.3h.01M71.5 119.9h.01M70.5 123.2h.01M69.0 115.5h.01M68.6 113.5h.01M73.1 125.3h.01M70.1 119.8h.01M72.3 120.9h.01M72.4 111.4h.01M68.9 119.3h.01M72.8 117.7h.01M68.5 115.6h.01M68.8 113.3h.01M73.0 114.3h.01M72.4 118.7h.01M68.9 119.1h.01M73.2 120.1h.01M72.5 117.7h.01M71.1 116.3h.01M70.9 123.2h.01M67.4 116.9h.01M70.6 114.6h.01M69.5 120.8h.01M73.9 120.1h.01M70.7 110.1h.01M73.8 117.6h.01M70.0 112.1h.01M70.0 112.2h.01M70.2 119.3h.01M70.2 118.5h.01M68.5 123.8h.01M68.9 108.8h.01M69.7 113.7h.01M68.2 115.6h.01M70.7 111.8h.01M69.8 123.8h.01M71.4 116.5h.01M70.3 116.6h.01M70.0 120.6h.01M70.1 113.1h.01M71.3 114.4h.01M68.1 112.0h.01M66.5 118.9h.01M67.3 120.0h.01M68.6 115.5h.01M70.7 123.4h.01M73.8 121.9h.01M70.4 118.0h.01M73.5 123.8h.01M69.5 119.3h.01M70.6 117.4h.01M69.1 111.1h.01M69.1 110.1h.01M72.4 119.7h.01M67.8 123.6h.01M73.6 120.9h.01M71.1 119.1h.01M70.5 118.0h.01M72.1 110.3h.01M67.7 110.8h.01M69.0 114.4h.01M70.8 118.4h.01M70.2 114.1h.01M69.3 121.6h.01M71.6 117.7h.01M69.5 124.3h.01M69.0 120.2h.01M72.3 116.0h.01M71.7 112.1h.01M72.0 118.1h.01M67.1 120.3h.01M68.4 123.1h.01M68.8 116.4h.01M70.6 115.7h.01M70.6 114.7h.01M71.4 117.2h.01M72.3 117.3h.01M66.7 117.6h.01M71.0 122.1h.01M68.0 124.3h.01M69.8 120.3h.01M69.4 112.1h.01M72.2 121.4h.01M73.0 121.1h.01M69.0 109.6h.01M68.9 114.1h.01M68.6 119.9h.01M70.7 116.0h.01M70.4 116.5h.01M70.5 120.7h.01M71.9 114.0h.01M67.2 123.8h.01M70.3 122.3h.01M67.0 115.7h.01M70.2 110.6h.01M69.1 120.5h.01M72.1 124.5h.01M68.5 110.8h.01M71.1 121.5h.01M70.5 111.2h.01M71.6 120.8h.01M71.2 115.0h.01M70.7 120.8h.01M70.7 119.4h.01M70.1 121.3h.01M69.0 116.8h.01M69.5 119.8h.01M73.1 116.0h.01M71.6 119.9h.01M73.5 116.4h.01M69.9 112.3h.01M71.0 123.4h.01M71.1 119.1h.01M69.7 118.0h.01M67.4 122.0h.01M69.3 112.1h.01M68.7 113.4h.01M71.7 122.1h.01M67.5 121.5h.01M71.8 114.5h.01M67.3 113.8h.01M68.9 118.8h.01M70.5 110.1h.01M71.8 111.6h.01M68.8 113.3h.01M69.1 123.2h.01M71.7 120.0h.01M70.7 110.1h.01M69.1 114.7h.01M68.2 119.5h.01M68.7 113.9h.01M71.2 123.3h.01M70.4 112.7h.01M72.4 118.6h.01M71.9 124.0h.01M72.2 115.2h.01M72.1 120.8h.01M67.2 115.3h.01M67.4 116.7h.01M71.2 112.3h.01M70.8 124.0h.01M67.6 122.1h.01M69.7 118.4h.01M69.8 121.8h.01M72.1 117.6h.01M67.5 120.6h.01M69.2 120.1h.01M70.6 124.7h.01M72.3 115.1h.01M70.8 125.3h.01M69.1 119.2h.01M72.4 123.0h.01M71.1 111.1h.01M67.7 118.3h.01M68.5 122.4h.01M71.6 109.5h.01M68.5 118.0h.01M69.2 116.5h.01M71.0 113.5h.01M71.0 114.3h.01M69.1 119.7h.01M69.0 118.5h.01M73.1 117.3h.01M69.8 120.6h.01M69.4 122.2h.01M67.7 120.0h.01M69.1 113.5h.01M73.5 113.3h.01M73.4 120.2h.01M72.9 112.7h.01M72.4 123.9h.01M69.9 116.6h.01M69.3 114.3h.01M70.9 118.7h.01M70.4 125.1h.01M69.5 119.4h.01M72.9 112.6h.01M67.5 112.2h.01M71.0 123.9h.01M67.0 115.7h.01M68.7 116.0h.01M70.2 119.7h.01M69.4 117.3h.01M69.1 117.7h.01M67.9 117.5h.01M73.7 117.6h.01M67.7 118.4h.01M68.3 109.6h.01M68.7 120.6h.01M70.8 116.8h.01M68.3 112.2h.01M72.7 118.3h.01M67.9 116.8h.01M70.5 116.5h.01M69.6 110.9h.01M68.1 125.0h.01M68.7 121.1h.01M66.9 115.9h.01M70.6 122.0h.01M68.0 119.9h.01M70.8 113.8h.01M71.0 113.1h.01M68.6 117.1h.01M68.2 110.5h.01M69.3 120.7h.01M69.3 123.0h.01M67.9 111.2h.01M73.0 119.0h.01M71.9 113.4h.01M71.6 118.4h.01M71.3 117.3h.01M72.4 114.2h.01M68.3 110.4h.01M72.3 113.8h.01M68.1 112.9h.01M69.3 111.4h.01M69.5 114.3h.01M69.1 112.8h.01M70.2 115.1h.01M70.3 118.3h.01M69.1 113.5h.01M71.6 109.9h.01M68.7 115.8h.01M69.5 121.8h.01M69.3 121.6h.01M67.3 108.9h.01M72.4 119.2h.01M71.0 117.8h.01M71.0 111.6h.01M71.9 114.8h.01M72.0 117.6h.01M72.2 116.6h.01M69.3 118.3h.01M69.3 114.7h.01M70.3 117.9h.01M73.0 117.4h.01M73.7 125.5h.01M73.4 122.1h.01M70.3 117.8h.01M69.8 113.8h.01M70.0 114.3h.01M73.2 119.7h.01M70.0 115.3h.01M68.0 112.0h.01M70.0 116.5h.01M72.8 117.8h.01M70.4 115.5h.01M68.9 124.1h.01M72.0 125.1h.01M69.4 117.3h.01M68.4 121.6h.01M67.5 119.8h.01M72.2 123.7h.01M68.3 122.2h.01M68.7 113.7h.01M67.6 122.5h.01M73.2 114.5h.01M68.7 115.6h.01M69.1 108.9h.01M68.8 122.7h.01M73.6 116.0h.01M68.8 114.9h.01M66.5 121.4h.01M68.0 122.1h.01M66.9 111.4h.01M70.6 113.7h.01M71.6 117.2h.01M67.9 120.1h.01M73.6 119.5h.01M68.7 115.6h.01M72.1 110.5h.01M69.6 118.8h.01M66.9 114.5h.01M71.1 124.5h.01M71.4 115.8h.01M67.9 112.9h.01M68.8 117.9h.01M70.0 124.9h.01M70.6 112.3h.01M73.0 121.6h.01M70.3 113.9h.01M66.5 112.5h.01M71.8 113.5h.01M67.6 118.1h.01M70.6 120.0h.01M71.3 123.7h.01M68.5 121.7h.01M68.2 120.4h.01M70.4 118.3h.01M71.9 117.1h.01M72.2 121.2h.01M70.4 114.6h.01M68.7 114.8h.01M69.7 117.1h.01M71.6 113.2h.01M68.8 115.7h.01M70.5 112.4h.01M73.2 114.6h.01M70.1 118.5h.01M70.5 120.0h.01M70.6 117.9h.01M66.5 113.9h.01M70.7 116.3h.01M68.5 114.5h.01M73.6 125.2h.01M70.0 123.1h.01M69.2 113.2h.01M69.0 118.1h.01M70.2 118.5h.01M70.0 121.5h.01M73.5 111.5h.01M70.4 116.0h.01M70.8 110.2h.01M71.1 118.1h.01M69.4 113.7h.01M67.4 113.0h.01M71.4 119.7h.01M70.1 119.6h.01M69.0 117.5h.01M70.2 119.8h.01M70.0 116.5h.01M69.8 114.2h.01M72.8 110.0h.01M71.4 121.1h.01M73.7 123.3h.01M71.6 111.8h.01M68.4 118.4h.01M71.1 112.5h.01M69.4 115.4h.01M70.2 118.7h.01M69.6 111.5h.01M72.5 124.5h.01M69.9 121.9h.01M70.9 120.2h.01M71.0 113.7h.01M71.2 121.8h.01M73.9 120.6h.01M69.5 114.4h.01M68.6 117.7h.01M70.0 120.3h.01M71.4 119.4h.01M70.6 116.2h.01M69.9 113.4h.01M70.4 117.1h.01M70.7 113.3h.01M70.2 117.4h.01M71.2 112.3h.01M70.9 121.7h.01M71.2 115.5h.01M69.2 116.1h.01M71.5 124.3h.01M69.8 114.2h.01M70.8 118.1h.01M68.4 113.8h.01M69.9 120.3h.01M67.8 112.5h.01M71.0 111.6h.01M70.3 118.8h.01M69.9 112.5h.01M70.0 115.7h.01M70.7 113.3h.01M72.2 109.5h.01M69.8 117.2h.01M71.9 114.4h.01M71.1 114.6h.01M71.5 125.2h.01M69.3 119.2h.01M68.3 121.7h.01M72.4 117.4h.01M67.9 119.1h.01M72.3 122.2h.01M68.8 123.7h.01M67.8 122.4h.01M73.7 120.7h.01M72.2 115.7h.01M67.8 116.7h.01M69.7 117.0h.01M71.4 116.5h.01M70.5 119.2h.01M70.9 117.6h.01M69.7 114.3h.01M72.7 117.9h.01M68.1 114.6h.01M69.8 115.2h.01M72.2 111.9h.01M71.0 117.9h.01M67.9 117.4h.01M69.9 119.5h.01M69.2 118.6h.01M66.9 112.2h.01M71.6 122.0h.01M70.1 114.4h.01M68.6 120.3h.01M71.3 112.5h.01M66.5 123.9h.01M70.4 113.1h.01M70.2 121.3h.01M71.6 109.0h.01M72.3 119.0h.01M70.1 122.0h.01M68.9 114.0h.01M69.4 116.9h.01M68.0 119.4h.01M71.1 117.5h.01M73.3 115.7h.01M72.6 114.7h.01M70.5 116.4h.01M69.2 114.4h.01M69.4 113.9h.01M69.1 114.8h.01M68.1 116.6h.01M71.6 116.0h.01M69.2 123.4h.01M72.0 121.4h.01M72.3 115.7h.01M69.9 122.3h.01M69.0 116.6h.01M70.8 118.9h.01M69.6 121.7h.01M69.8 120.5h.01M72.1 120.2h.01M71.5 111.9h.01M67.6 114.4h.01M71.0 124.1h.01M67.8 118.6h.01M68.5 113.8h.01M69.6 120.4h.01M70.5 122.6h.01M68.2 121.3h.01M71.9 117.5h.01M71.0 114.6h.01M68.0 115.3h.01M69.2 124.8h.01M70.5 118.6h.01M71.5 113.6h.01M71.8 118.9h.01M67.2 120.0h.01M71.1 119.3h.01M73.1 115.3h.01M71.1 120.6h.01M68.4 122.7h.01M67.3 111.2h.01M71.1 112.2h.01M69.9 109.6h.01M70.2 112.0h.01M70.7 110.2h.01M71.0 116.0h.01M70.2 116.9h.01M70.3 111.1h.01M68.3 115.1h.01M68.6 114.4h.01M68.1 118.7h.01M69.8 113.4h.01M68.2 120.9h.01M68.8 119.9h.01M68.0 117.2h.01M70.7 120.8h.01M71.6 122.0h.01M69.4 116.2h.01M71.6 115.2h.01M72.1 109.9h.01M71.3 116.4h.01M70.7 117.3h.01M68.1 115.1h.01M73.0 113.4h.01M67.8 116.6h.01M69.4 113.0h.01M68.5 122.0h.01M69.1 112.2h.01M71.6 119.8h.01M68.1 120.6h.01M66.6 113.0h.01M72.2 116.0h.01M67.6 119.6h.01M71.8 117.1h.01M66.7 115.6h.01M70.9 120.7h.01M73.6 116.0h.01M69.2 117.0h.01M72.4 112.9h.01M71.6 114.1h.01M71.0 120.4h.01M67.9 116.8h.01M70.6 119.9h.01M68.3 112.6h.01M69.7 116.2h.01M67.3 121.5h.01" stroke="#0808f8" stroke-width="1.1" stroke-linecap="round" fill="none" opacity="0.9"/>
</g>
<g filter="url(#bl)"><polygon points="54.6,260.2 58.2,260.2 58.3,263.8 55.8,274.2 53.5,275.4 50.2,272.3 51.8,266.2" fill="#0808f8"/>
<path d="M52.8 274.6h.01M55.9 268.1h.01M55.6 262.9h.01M53.3 265.4h.01M51.2 268.1h.01M53.7 274.6h.01M52.0 265.9h.01M54.9 269.9h.01M54.1 265.8h.01M55.1 269.7h.01M49.9 266.8h.01M51.0 262.6h.01M54.3 268.3h.01M54.3 264.0h.01M53.6 263.8h.01M54.8 271.2h.01M57.9 273.8h.01M52.2 265.9h.01M51.9 269.4h.01M58.4 271.3h.01M49.2 262.2h.01M51.2 270.4h.01M54.0 269.4h.01M57.9 264.2h.01M54.8 264.4h.01M49.5 261.0h.01M48.6 268.3h.01M54.1 272.6h.01M53.7 264.8h.01M52.4 276.7h.01M50.1 268.8h.01M54.1 270.8h.01M53.1 270.3h.01M55.8 267.3h.01M53.0 267.1h.01M51.9 267.0h.01M53.3 269.0h.01M56.9 274.0h.01M53.0 270.8h.01M54.6 271.5h.01M54.0 269.2h.01M53.0 264.4h.01M55.9 274.0h.01M55.5 270.0h.01M54.6 265.9h.01M50.1 271.1h.01M54.4 265.5h.01M51.9 273.9h.01M50.0 276.1h.01M52.4 267.9h.01M52.9 268.7h.01M53.5 264.6h.01M56.4 264.4h.01M52.9 270.6h.01M52.8 266.0h.01M54.8 266.3h.01M51.3 267.5h.01M53.5 275.8h.01M51.6 272.5h.01M52.3 266.4h.01M53.3 269.2h.01M55.9 276.0h.01M52.6 274.1h.01M56.2 271.7h.01M52.3 272.1h.01M53.8 269.6h.01M53.4 271.1h.01M56.5 273.2h.01M53.5 272.6h.01M57.2 263.7h.01M57.2 261.9h.01M55.2 270.7h.01M57.3 269.3h.01M52.9 264.3h.01M51.2 271.5h.01M53.5 264.7h.01M55.2 264.5h.01M53.0 265.9h.01M57.6 274.7h.01M53.7 260.8h.01M54.6 268.3h.01M54.8 270.6h.01M53.3 272.3h.01M55.8 269.0h.01M53.1 265.8h.01M55.5 262.9h.01M53.6 264.6h.01" stroke="#1c1cff" stroke-width="1.0" stroke-linecap="round" fill="none" opacity="0.5"/>
</g>
<g filter="url(#bl)">
<path d="M383.4 104.6h.01M387.5 101.7h.01M390.2 93.7h.01M387.4 103.0h.01M390.1 95.9h.01M389.7 102.6h.01M391.7 107.4h.01M387.6 99.3h.01M386.6 96.6h.01M387.3 103.7h.01M390.6 99.7h.01M391.8 98.1h.01M385.3 97.4h.01M392.0 104.2h.01M384.4 104.2h.01M389.0 100.3h.01M387.7 100.0h.01M386.0 92.5h.01M387.3 108.0h.01M391.8 100.1h.01M385.4 100.4h.01M390.2 103.3h.01M385.9 103.3h.01M387.0 104.1h.01M386.4 94.0h.01M387.8 105.4h.01M384.4 101.0h.01M390.2 99.6h.01M390.0 106.7h.01M384.8 109.8h.01M382.8 98.9h.01M389.8 108.2h.01M384.9 98.1h.01M389.5 104.3h.01M386.3 104.2h.01M389.9 103.1h.01M389.1 109.1h.01M386.2 102.3h.01M386.1 106.7h.01M386.4 103.9h.01M388.0 101.8h.01M392.6 101.1h.01M391.7 105.7h.01M391.4 100.7h.01M390.3 105.3h.01M385.8 102.9h.01M387.2 101.3h.01M391.4 97.9h.01M382.7 92.7h.01M386.3 98.3h.01M387.6 104.3h.01M392.7 103.1h.01M388.9 97.8h.01M389.3 108.3h.01M390.2 109.4h.01M390.0 94.0h.01M386.7 104.4h.01M388.8 97.4h.01M385.0 106.3h.01M383.7 108.7h.01M387.7 103.0h.01M383.7 98.5h.01M389.6 94.1h.01M393.6 94.5h.01M384.1 101.7h.01M389.0 105.2h.01M386.5 100.5h.01M386.9 98.6h.01M380.2 106.3h.01M388.3 102.3h.01M385.8 102.8h.01M387.6 101.1h.01M390.8 92.9h.01M388.3 96.2h.01M386.7 109.0h.01M384.5 101.0h.01M385.9 106.2h.01M384.8 93.1h.01M389.1 99.7h.01M386.7 106.9h.01M385.0 99.6h.01M388.0 103.6h.01M386.1 106.7h.01M394.1 99.5h.01M391.7 99.8h.01M388.0 99.8h.01M385.8 95.1h.01M386.5 108.0h.01M390.9 99.8h.01M386.1 98.0h.01M384.1 110.5h.01M389.5 102.1h.01M386.2 96.4h.01M391.4 105.4h.01M384.9 106.4h.01M384.4 104.7h.01M384.8 99.4h.01M389.0 103.7h.01M390.5 97.3h.01M392.1 108.2h.01M387.6 103.8h.01M385.4 100.7h.01M383.8 101.9h.01M388.2 108.2h.01M390.3 105.6h.01M386.6 100.4h.01M386.6 102.6h.01M382.0 105.3h.01M383.1 98.9h.01M387.7 98.9h.01M392.4 101.0h.01M392.1 107.4h.01M386.2 103.5h.01M391.3 99.8h.01M387.9 98.7h.01M387.8 99.7h.01M387.8 106.5h.01M391.6 102.2h.01M388.2 105.8h.01M386.8 96.2h.01M390.8 96.8h.01M390.3 96.7h.01M392.9 96.3h.01M390.0 109.0h.01M384.8 108.9h.01M385.2 92.7h.01M389.7 105.0h.01M387.4 100.0h.01M386.5 100.1h.01M382.4 98.7h.01M392.8 109.2h.01M386.6 97.9h.01M388.7 106.8h.01M389.7 95.7h.01M388.1 102.2h.01M391.7 107.5h.01M389.1 107.6h.01M386.5 109.2h.01M386.4 103.5h.01M390.2 96.9h.01M385.6 92.7h.01M388.1 101.2h.01M386.7 104.0h.01M381.5 101.4h.01M387.9 100.2h.01M389.9 110.2h.01M386.3 96.8h.01M385.9 102.0h.01M389.3 97.2h.01M390.5 96.4h.01M390.0 103.6h.01M386.8 100.7h.01M389.0 105.8h.01M383.7 102.9h.01M385.5 104.6h.01M391.5 101.8h.01M387.3 102.4h.01M379.1 105.3h.01M389.2 102.3h.01M386.5 97.9h.01M387.1 107.6h.01M387.3 108.2h.01M380.2 99.2h.01M388.4 101.4h.01M382.8 98.2h.01M391.2 95.1h.01M384.7 96.0h.01M386.0 104.7h.01M391.8 98.5h.01M385.9 109.8h.01M387.4 95.3h.01M385.8 97.9h.01M384.7 99.8h.01M390.1 103.2h.01M384.7 102.1h.01M387.7 105.3h.01M386.7 103.8h.01M393.7 102.0h.01M384.5 103.1h.01M385.3 99.7h.01M388.1 103.2h.01M386.8 105.7h.01M387.0 95.0h.01M390.1 99.7h.01M391.1 98.2h.01M389.2 103.1h.01M379.8 94.0h.01M384.4 108.5h.01M382.2 106.1h.01M390.7 104.0h.01M389.5 99.0h.01M387.6 102.6h.01M388.8 105.0h.01M387.0 98.0h.01M386.0 103.6h.01M382.8 95.2h.01M386.4 98.7h.01M386.6 100.2h.01M386.7 103.9h.01M389.0 107.5h.01M390.6 96.3h.01M389.4 99.8h.01M385.3 109.2h.01M385.8 97.2h.01M386.4 97.2h.01M390.5 103.4h.01M391.6 103.6h.01M385.8 106.7h.01M385.7 99.2h.01M387.1 101.7h.01M391.0 98.5h.01M388.6 101.4h.01M384.0 96.0h.01M387.0 103.5h.01M388.5 103.9h.01M387.7 99.3h.01M388.8 96.5h.01M383.7 99.8h.01M383.5 98.9h.01M385.4 98.7h.01M387.5 97.5h.01M386.4 92.9h.01M388.0 97.1h.01M385.3 102.7h.01M380.5 99.7h.01M387.9 102.0h.01M383.3 102.7h.01M388.0 96.6h.01M389.8 101.3h.01M387.7 99.2h.01M389.2 102.0h.01M390.9 103.8h.01M385.8 100.4h.01M390.3 99.7h.01M388.7 104.1h.01M388.0 102.6h.01M388.0 97.7h.01M391.1 100.8h.01M385.8 97.9h.01M388.6 96.0h.01M391.4 106.8h.01M391.6 104.5h.01M382.7 107.5h.01M391.2 104.0h.01" stroke="#1c1cff" stroke-width="1.0" stroke-linecap="round" fill="none" opacity="0.55"/>
<rect x="383.4" y="93.4" width="7" height="16" rx="2.6" ry="3" fill="#0a0af8"/>
<path d="M382.4 108.4h.01M390.1 98.6h.01M387.2 105.8h.01M386.7 107.6h.01M387.1 105.3h.01M387.1 93.1h.01M387.5 108.8h.01M388.2 98.1h.01M386.5 106.5h.01M388.8 108.9h.01M384.7 97.7h.01M382.5 95.7h.01M384.2 109.2h.01M387.9 98.6h.01M386.7 102.6h.01M389.2 109.1h.01M388.1 103.4h.01M386.5 99.1h.01M387.5 101.2h.01M386.7 99.9h.01M385.2 101.3h.01M385.9 102.6h.01M388.9 106.0h.01M388.6 106.0h.01M388.5 109.4h.01M389.3 109.0h.01M385.7 101.4h.01M385.2 106.8h.01M388.8 98.8h.01M389.8 95.1h.01M386.7 105.0h.01M386.8 103.6h.01M389.7 103.3h.01M384.3 105.4h.01M386.7 102.0h.01M385.6 93.6h.01M384.0 99.4h.01M389.6 94.8h.01M385.2 104.4h.01M385.1 105.1h.01M385.8 103.1h.01M387.1 101.4h.01M382.6 93.1h.01M386.8 109.4h.01M385.6 104.4h.01M387.3 104.1h.01M389.2 92.9h.01M387.5 100.4h.01M386.2 96.6h.01M385.1 95.6h.01M390.9 101.5h.01M388.6 95.9h.01M387.2 109.5h.01M386.8 95.7h.01M386.3 95.8h.01M383.6 100.1h.01M386.0 96.8h.01M384.8 96.1h.01M387.5 109.3h.01M383.1 103.0h.01M384.2 100.5h.01M387.1 104.6h.01M389.5 98.3h.01M384.0 100.3h.01M387.6 97.5h.01M389.0 110.9h.01M383.6 103.4h.01M387.4 100.1h.01M383.6 108.8h.01M387.4 98.7h.01M387.9 105.0h.01M388.7 104.7h.01M387.9 94.7h.01M385.9 102.1h.01M386.0 95.4h.01M382.6 102.8h.01M387.0 98.1h.01M385.9 96.4h.01M385.1 100.8h.01M385.4 105.2h.01M386.6 102.1h.01M387.8 108.6h.01M388.3 102.7h.01M386.5 96.8h.01M386.1 105.3h.01M387.4 99.2h.01M383.8 92.7h.01M387.7 107.2h.01M387.8 93.6h.01M386.4 102.7h.01M384.8 103.4h.01M386.4 96.7h.01M384.0 106.0h.01M387.7 96.4h.01M384.5 106.4h.01M388.3 99.7h.01M390.6 99.8h.01M384.4 107.6h.01M386.5 103.4h.01M387.0 95.7h.01M384.1 100.3h.01M390.2 95.7h.01M390.1 102.6h.01M384.3 102.9h.01M388.2 96.3h.01M384.3 103.9h.01M382.4 100.6h.01M385.0 93.0h.01M386.3 102.4h.01M385.6 94.7h.01M388.1 104.2h.01M390.8 106.4h.01M387.7 102.9h.01M387.0 93.9h.01M390.3 104.4h.01M386.2 94.9h.01M390.4 104.4h.01M384.1 105.2h.01M391.3 101.3h.01M387.8 99.1h.01M385.4 107.4h.01M386.6 105.9h.01M386.2 105.5h.01M388.8 95.7h.01M384.4 101.0h.01M388.8 103.0h.01M389.8 93.6h.01M388.0 97.9h.01M387.1 103.2h.01M384.6 100.1h.01M384.2 102.9h.01M384.9 98.6h.01M387.4 97.7h.01M389.6 97.8h.01M388.9 103.0h.01M384.5 100.2h.01M385.0 99.4h.01M385.9 110.2h.01M387.9 94.1h.01M389.3 103.6h.01M386.4 100.0h.01M387.5 99.7h.01M385.7 99.3h.01M389.6 97.9h.01M387.8 94.9h.01M385.2 93.7h.01M386.4 105.2h.01M387.6 98.6h.01M388.3 99.5h.01M387.8 102.9h.01M383.9 105.7h.01M386.4 98.3h.01M390.4 104.5h.01M391.3 104.3h.01M386.4 105.5h.01M385.1 98.9h.01M385.6 100.2h.01M388.7 98.7h.01M387.6 98.6h.01M386.4 102.3h.01M384.4 107.1h.01M387.4 108.6h.01M389.1 105.0h.01M386.6 95.3h.01M386.4 98.8h.01M387.5 98.8h.01M389.6 98.8h.01M386.3 106.6h.01M386.9 94.6h.01M387.9 100.3h.01M384.5 97.2h.01M388.0 103.1h.01M387.9 98.0h.01M387.4 100.7h.01M386.5 99.9h.01M385.6 106.9h.01M387.0 111.0h.01M388.7 110.6h.01M386.6 103.5h.01M385.9 100.5h.01M382.9 98.1h.01M384.7 97.8h.01M389.7 102.9h.01M389.7 106.2h.01M389.0 107.0h.01M385.5 105.9h.01M386.2 98.4h.01M388.8 96.7h.01M387.5 103.5h.01M387.8 99.4h.01M383.9 101.6h.01M388.9 105.8h.01M388.4 107.6h.01M384.6 101.2h.01M387.7 107.0h.01M387.3 104.3h.01M382.7 102.1h.01M383.6 97.6h.01M387.4 111.0h.01M388.0 105.1h.01M389.3 102.5h.01M384.9 100.9h.01M387.7 99.9h.01M385.4 99.4h.01M383.4 95.7h.01M386.7 99.4h.01M387.0 109.2h.01M387.6 101.2h.01M384.2 95.4h.01M387.8 96.5h.01M387.9 95.4h.01M387.2 101.0h.01M389.2 99.2h.01M386.0 102.8h.01M387.0 110.8h.01M386.3 98.4h.01M386.2 104.0h.01M387.4 105.3h.01M391.1 101.2h.01M384.1 102.3h.01M386.9 93.2h.01M388.0 109.1h.01M389.3 93.0h.01M390.1 106.5h.01M386.1 104.2h.01M390.4 99.5h.01M386.9 98.3h.01M390.2 96.0h.01M389.0 92.3h.01M384.7 98.1h.01M388.8 92.4h.01M388.3 97.9h.01M389.8 99.7h.01M388.0 100.4h.01M391.0 99.4h.01M387.1 105.2h.01M385.2 102.5h.01M385.4 93.0h.01M383.6 107.8h.01M387.9 92.9h.01M391.1 97.5h.01M386.0 102.8h.01M384.3 92.4h.01M385.2 108.0h.01M389.1 92.6h.01M389.7 101.6h.01M388.1 101.7h.01M387.9 95.8h.01M384.8 97.5h.01M386.0 104.9h.01M384.1 110.3h.01M385.4 98.1h.01M388.5 103.8h.01M386.1 95.4h.01M384.6 92.5h.01M389.5 107.4h.01M391.2 104.2h.01M387.7 105.6h.01M389.1 100.0h.01M383.0 93.6h.01M384.7 105.6h.01M389.6 99.5h.01M388.5 101.1h.01M387.6 98.4h.01M386.8 101.4h.01M382.7 104.4h.01M386.9 106.8h.01M389.4 105.8h.01M388.8 96.1h.01M383.0 110.7h.01M389.7 96.1h.01M389.9 105.1h.01M384.6 107.9h.01M385.3 97.2h.01M383.3 100.2h.01M389.3 97.6h.01M391.2 105.3h.01M385.7 94.6h.01M383.1 104.5h.01M389.9 95.5h.01M386.9 99.8h.01M386.3 104.2h.01M388.9 107.5h.01M386.2 100.6h.01M383.8 107.4h.01M385.7 97.7h.01M387.1 96.6h.01M384.5 99.7h.01M390.3 100.3h.01M388.1 93.2h.01M386.0 92.8h.01M386.7 104.8h.01M382.9 96.5h.01M387.5 96.2h.01M388.7 106.8h.01M387.9 99.0h.01M386.8 97.9h.01M386.6 103.2h.01M386.2 106.8h.01M387.7 106.0h.01M388.4 100.1h.01M385.8 107.0h.01M388.3 104.2h.01M385.0 104.9h.01M388.7 100.4h.01M382.5 104.8h.01M384.2 93.8h.01M386.4 104.5h.01M387.0 94.9h.01M383.6 98.3h.01M386.9 96.7h.01M385.0 100.5h.01M385.6 98.1h.01M387.0 99.7h.01M388.3 94.8h.01M386.7 105.7h.01M389.6 104.5h.01M387.0 92.7h.01M383.2 106.9h.01M388.5 104.6h.01M384.4 94.8h.01M387.3 95.7h.01M390.6 97.9h.01M385.6 106.3h.01M387.7 96.3h.01M384.0 100.0h.01M388.4 105.3h.01M389.2 103.8h.01M385.3 94.8h.01M384.3 105.7h.01M389.0 108.4h.01M387.0 94.6h.01M391.0 94.0h.01M389.4 108.0h.01M386.0 93.7h.01M386.8 103.5h.01M383.3 94.9h.01M386.7 105.4h.01M387.1 103.9h.01M387.6 96.2h.01M386.6 99.3h.01M388.0 97.0h.01M390.3 101.6h.01M388.1 105.0h.01M389.3 103.7h.01M382.8 97.8h.01M391.3 104.1h.01M388.2 104.0h.01M385.4 97.6h.01M385.4 108.0h.01M388.0 94.7h.01M391.0 103.3h.01M389.7 102.6h.01M386.1 102.4h.01M384.3 94.6h.01M384.8 98.4h.01M383.7 100.8h.01M391.2 101.1h.01M389.0 100.2h.01M387.8 101.2h.01M385.6 101.8h.01M383.4 103.9h.01M386.2 95.2h.01M386.1 104.6h.01M385.3 104.1h.01M388.2 110.3h.01M384.3 100.8h.01M388.1 110.0h.01M387.5 105.7h.01M383.4 98.1h.01M390.8 99.8h.01M386.2 92.3h.01M388.4 102.9h.01M391.7 102.3h.01M386.3 93.3h.01M386.7 106.8h.01M388.7 108.4h.01M388.9 101.1h.01M388.3 102.4h.01M387.8 95.4h.01M387.8 103.0h.01M389.3 109.7h.01M390.5 96.0h.01M382.5 103.0h.01M387.7 103.4h.01M384.3 98.7h.01M387.4 105.7h.01M389.5 100.6h.01M386.6 95.7h.01M387.2 102.1h.01M387.6 108.9h.01M386.7 101.9h.01M388.9 92.5h.01M386.2 101.8h.01M389.2 96.8h.01M388.8 103.6h.01M383.4 92.9h.01M383.5 102.2h.01M387.4 105.6h.01M388.9 98.2h.01M389.4 106.1h.01M388.0 104.2h.01M383.8 103.5h.01M384.4 94.5h.01M386.1 102.2h.01M386.8 99.5h.01M384.5 102.5h.01M385.1 93.3h.01M387.1 109.8h.01M385.9 95.3h.01M386.2 100.2h.01M387.2 107.1h.01M384.3 94.3h.01M387.9 102.0h.01M391.2 99.8h.01M387.6 101.8h.01M387.6 109.9h.01M390.0 97.9h.01M388.5 99.2h.01M387.2 102.3h.01M387.0 98.7h.01M390.6 99.9h.01M388.4 107.3h.01M390.2 107.7h.01M391.0 93.1h.01M391.6 101.6h.01M382.7 97.7h.01M383.6 101.3h.01M383.3 95.6h.01M387.6 102.3h.01M385.0 100.0h.01M386.7 101.8h.01M386.9 100.1h.01M389.0 92.1h.01M385.7 102.2h.01M385.9 98.2h.01M385.9 102.6h.01M389.9 100.3h.01M386.3 103.5h.01M387.5 99.2h.01M385.5 105.0h.01M387.0 98.1h.01M386.9 100.7h.01M388.0 102.7h.01M385.8 94.1h.01M384.3 100.6h.01M384.1 105.8h.01M390.8 95.6h.01M386.8 100.0h.01M382.4 106.4h.01M383.4 104.7h.01M386.9 106.3h.01M385.7 105.6h.01M389.0 104.9h.01M390.4 100.4h.01M390.6 97.3h.01M386.9 96.8h.01M386.9 107.4h.01M388.6 102.0h.01M391.0 92.8h.01M384.9 110.2h.01M387.7 94.5h.01M390.4 108.0h.01M385.6 108.9h.01M384.9 106.7h.01M388.3 100.7h.01M383.5 99.8h.01M382.5 108.4h.01M388.3 103.5h.01M388.8 101.8h.01M388.1 107.0h.01M385.5 93.2h.01M386.9 105.9h.01M390.5 102.9h.01M387.4 105.7h.01M390.3 99.5h.01M384.0 96.8h.01M383.9 96.2h.01M386.6 103.4h.01M387.3 101.8h.01M386.0 103.9h.01M389.0 105.8h.01M390.5 99.7h.01M387.4 103.8h.01M386.1 107.0h.01M385.9 95.6h.01M386.8 98.8h.01M388.9 99.2h.01M387.2 100.1h.01M387.7 97.7h.01M389.6 93.1h.01M386.0 97.3h.01M388.5 101.6h.01M388.1 99.5h.01M385.2 94.9h.01M386.1 98.3h.01M387.6 103.5h.01M389.2 100.8h.01M385.1 95.2h.01M387.0 103.5h.01M391.6 102.5h.01M384.4 108.4h.01M389.6 109.2h.01M386.9 106.9h.01M385.7 101.0h.01M386.4 106.9h.01M387.1 97.3h.01M387.5 105.2h.01M385.2 105.1h.01M385.2 96.3h.01M387.4 100.0h.01M384.5 91.9h.01M387.0 102.8h.01M385.8 102.5h.01M383.2 103.7h.01M387.9 103.0h.01M385.4 101.9h.01M387.2 107.6h.01M387.6 102.9h.01M385.2 106.4h.01M389.7 98.5h.01M388.4 103.2h.01M386.8 93.9h.01M387.6 99.2h.01M389.6 98.9h.01M387.0 104.9h.01M388.0 98.4h.01M388.5 103.7h.01M389.3 98.4h.01M386.8 99.1h.01M384.9 102.9h.01M387.9 109.6h.01M386.1 103.6h.01M389.6 100.7h.01M387.1 102.2h.01M385.2 95.7h.01M389.6 102.4h.01M386.7 94.2h.01M387.2 108.2h.01M384.1 96.2h.01M389.6 109.7h.01M390.6 98.2h.01M388.3 97.1h.01M388.1 99.3h.01M387.4 109.1h.01M387.7 100.0h.01M387.0 102.9h.01M385.7 102.6h.01M388.3 110.4h.01M383.9 106.5h.01M387.2 108.0h.01M385.7 98.6h.01M387.7 98.0h.01M389.6 101.4h.01M385.8 106.7h.01M384.9 108.6h.01M389.2 102.2h.01M389.3 110.7h.01M390.2 101.4h.01M386.8 107.8h.01M383.4 97.9h.01M388.1 104.7h.01M387.7 103.9h.01M383.8 100.3h.01M387.5 100.1h.01M387.0 104.9h.01M384.6 98.1h.01M382.7 108.0h.01M388.7 100.2h.01M389.2 99.3h.01M387.3 102.1h.01M386.4 106.0h.01M391.6 99.0h.01M384.3 104.8h.01M389.4 92.8h.01M385.3 95.7h.01M388.2 104.3h.01M385.2 94.9h.01M388.4 100.5h.01M391.4 107.1h.01M385.5 99.8h.01M386.2 97.2h.01M387.1 106.9h.01M383.3 100.1h.01M390.4 105.6h.01M385.0 96.8h.01M384.9 92.2h.01M389.6 101.8h.01M385.3 93.2h.01M386.0 98.5h.01M391.0 98.8h.01M387.2 107.5h.01M388.5 100.4h.01M388.3 98.9h.01M386.7 95.9h.01M384.8 92.9h.01M388.1 104.4h.01M387.3 105.9h.01M388.2 102.1h.01M384.8 104.8h.01M389.7 105.0h.01M389.8 98.7h.01M384.6 108.5h.01M385.5 102.8h.01M386.5 101.5h.01M386.3 98.3h.01M384.8 95.0h.01M388.3 110.7h.01M386.3 105.6h.01M388.3 94.3h.01M385.5 99.4h.01M389.9 102.1h.01M386.6 96.8h.01M387.1 101.6h.01M388.6 109.3h.01M388.6 101.5h.01M386.5 110.5h.01M387.4 101.3h.01M391.1 110.3h.01M388.2 100.8h.01M385.4 107.5h.01M385.8 106.9h.01M385.1 102.0h.01M387.8 102.2h.01M387.4 103.6h.01M384.3 95.1h.01M386.6 96.1h.01M385.4 101.6h.01M389.7 98.2h.01M388.2 102.5h.01M386.1 96.0h.01M386.5 97.3h.01M389.5 105.7h.01M388.3 109.9h.01M387.0 103.9h.01M385.3 95.0h.01M387.9 104.3h.01M385.9 100.0h.01M385.7 98.2h.01M386.8 107.5h.01M383.1 99.5h.01M390.7 103.2h.01M387.3 106.1h.01M384.6 94.6h.01M383.0 93.2h.01M387.5 106.2h.01M385.9 97.6h.01M387.8 104.9h.01M387.5 96.6h.01M385.4 109.9h.01M390.0 104.1h.01M387.5 102.4h.01M385.5 101.1h.01M391.4 96.5h.01M385.4 102.3h.01M389.0 106.1h.01M384.6 100.7h.01M386.3 94.4h.01M387.1 98.7h.01M389.0 103.8h.01M385.1 101.9h.01M386.1 97.8h.01M385.8 107.4h.01M385.1 106.0h.01M386.1 99.5h.01M383.6 103.7h.01M386.8 103.0h.01M388.8 106.1h.01M385.4 98.1h.01M390.5 105.4h.01M387.2 95.2h.01M389.0 104.4h.01M388.8 102.9h.01M387.0 98.3h.01M387.6 102.8h.01M388.4 107.5h.01M387.6 98.3h.01M388.8 110.2h.01M385.0 103.8h.01M388.2 104.4h.01M388.1 100.9h.01M386.7 110.9h.01" stroke="#0a0af8" stroke-width="1.1" stroke-linecap="round" fill="none" opacity="0.9"/>
</g>
<text transform="translate(108.8 91.4) rotate(-90)" font-size="8.75" text-anchor="middle" stroke="#000" stroke-width="0.3">BM load (% of cells)</text>
<rect x="135.4" y="70.3" width="8.2" height="18.7" fill="#0000ff" stroke="#000" stroke-width="0.9"/>
<rect x="135.4" y="95.5" width="8.2" height="30.4" fill="#0000ff" stroke="#000" stroke-width="0.9"/>
<rect x="134.4" y="89.0" width="10.2" height="6.5" fill="#fff"/>
<line x1="139.5" y1="65.4" x2="139.5" y2="76.0" stroke="#000" stroke-width="0.9"/>
<line x1="136.9" y1="65.4" x2="142.1" y2="65.4" stroke="#000" stroke-width="0.9"/>
<line x1="136.9" y1="76.0" x2="142.1" y2="76.0" stroke="#000" stroke-width="0.9"/>
<rect x="166.5" y="73.5" width="8.2" height="15.5" fill="#0000ff" stroke="#000" stroke-width="0.9"/>
<rect x="166.5" y="95.5" width="8.2" height="30.4" fill="#0000ff" stroke="#000" stroke-width="0.9"/>
<rect x="165.5" y="89.0" width="10.2" height="6.5" fill="#fff"/>
<line x1="170.6" y1="67.4" x2="170.6" y2="80.0" stroke="#000" stroke-width="0.9"/>
<line x1="168.0" y1="67.4" x2="173.2" y2="67.4" stroke="#000" stroke-width="0.9"/>
<line x1="168.0" y1="80.0" x2="173.2" y2="80.0" stroke="#000" stroke-width="0.9"/>
<rect x="197.5" y="86.0" width="8.2" height="3.0" fill="#0000ff" stroke="#000" stroke-width="0.9"/>
<rect x="197.5" y="95.5" width="8.2" height="30.4" fill="#0000ff" stroke="#000" stroke-width="0.9"/>
<rect x="196.5" y="89.0" width="10.2" height="6.5" fill="#fff"/>
<line x1="201.6" y1="79.2" x2="201.6" y2="89.0" stroke="#000" stroke-width="0.9"/>
<line x1="199.0" y1="79.2" x2="204.2" y2="79.2" stroke="#000" stroke-width="0.9"/>
<rect x="177.7" y="119.2" width="7.7" height="6.7" fill="#000"/>
<line x1="181.5" y1="114.2" x2="181.5" y2="119.2" stroke="#000" stroke-width="0.9"/>
<line x1="178.9" y1="114.2" x2="184.1" y2="114.2" stroke="#000" stroke-width="0.9"/>
<rect x="239.8" y="105.4" width="7.7" height="20.5" fill="#000"/>
<line x1="243.7" y1="98.5" x2="243.7" y2="105.4" stroke="#000" stroke-width="0.9"/>
<line x1="241.1" y1="98.5" x2="246.2" y2="98.5" stroke="#000" stroke-width="0.9"/>
<rect x="228.6" y="124.9" width="8.2" height="1" fill="#223"/>
<line x1="130.0" y1="58.7" x2="130.0" y2="89.0" stroke="#000" stroke-width="1.1"/>
<line x1="130.0" y1="95.5" x2="130.0" y2="126.4" stroke="#000" stroke-width="1.1"/>
<line x1="127.7" y1="89.0" x2="131.3" y2="89.0" stroke="#000" stroke-width="1.0"/>
<line x1="127.7" y1="95.5" x2="131.3" y2="95.5" stroke="#000" stroke-width="1.0"/>
<line x1="126.1" y1="59.2" x2="130.0" y2="59.2" stroke="#000" stroke-width="1.0"/>
<text x="125.7" y="62.3" font-size="8.7" text-anchor="end" fill="#000" stroke="#000" stroke-width="0.3">100</text>
<line x1="126.1" y1="80.0" x2="130.0" y2="80.0" stroke="#000" stroke-width="1.0"/>
<text x="125.7" y="83.1" font-size="8.7" text-anchor="end" fill="#000" stroke="#000" stroke-width="0.3">50</text>
<line x1="126.1" y1="100.8" x2="130.0" y2="100.8" stroke="#000" stroke-width="1.0"/>
<text x="125.7" y="103.9" font-size="8.7" text-anchor="end" fill="#000" stroke="#000" stroke-width="0.3">10</text>
<line x1="126.1" y1="113.2" x2="130.0" y2="113.2" stroke="#000" stroke-width="1.0"/>
<text x="125.7" y="116.3" font-size="8.7" text-anchor="end" fill="#000" stroke="#000" stroke-width="0.3">5</text>
<line x1="126.1" y1="125.9" x2="130.0" y2="125.9" stroke="#000" stroke-width="1.0"/>
<text x="125.7" y="129.0" font-size="8.7" text-anchor="end" fill="#000" stroke="#000" stroke-width="0.3">0</text>
<line x1="129.5" y1="125.9" x2="253.6" y2="125.9" stroke="#000" stroke-width="1.4"/>
<line x1="144.6" y1="125.9" x2="144.6" y2="129.3" stroke="#000" stroke-width="1.0"/>
<line x1="175.7" y1="125.9" x2="175.7" y2="129.3" stroke="#000" stroke-width="1.0"/>
<line x1="206.7" y1="125.9" x2="206.7" y2="129.3" stroke="#000" stroke-width="1.0"/>
<line x1="237.8" y1="125.9" x2="237.8" y2="129.3" stroke="#000" stroke-width="1.0"/>
<text transform="translate(148.2 135.1) rotate(-45)" font-size="10.6" text-anchor="end" stroke="#000" stroke-width="0.18">Untreated</text>
<text transform="translate(179.3 135.1) rotate(-45)" font-size="10.6" text-anchor="end" stroke="#000" stroke-width="0.18">T-cells only</text>
<text transform="translate(210.3 135.1) rotate(-45)" font-size="10.6" text-anchor="end" stroke="#000" stroke-width="0.18">Canonical BiTE</text>
<text transform="translate(241.4 135.1) rotate(-45)" font-size="10.6" text-anchor="end" stroke="#000" stroke-width="0.18">T + Canonical BiTE</text>
<rect x="183.9" y="40.9" width="10.4" height="8.6" fill="#0000ff" stroke="#000" stroke-width="0.9"/>
<rect x="183.5" y="53.9" width="11.2" height="7.6" fill="#000"/>
<text x="198.4" y="48.3" font-size="8.8" text-anchor="start" fill="#000" stroke="#000" stroke-width="0.3">AML cells %</text>
<text x="198.4" y="61.2" font-size="8.8" text-anchor="start" fill="#000" stroke="#000" stroke-width="0.3">T-cells %</text>
<text x="243.6" y="96.5" font-size="11.5" text-anchor="middle" fill="#000" stroke="#000" stroke-width="0.5" font-weight="bold">*</text>
<text x="232.3" y="121.2" font-size="11.5" text-anchor="middle" fill="#000" stroke="#000" stroke-width="0.5" font-weight="bold" letter-spacing="0.3">**</text>
<text transform="translate(108.8 258.1) rotate(-90)" font-size="8.75" text-anchor="middle" stroke="#000" stroke-width="0.3">BM load (% of cells)</text>
<rect x="135.4" y="237.7" width="8.2" height="18.0" fill="#0000ff" stroke="#000" stroke-width="0.9"/>
<rect x="135.4" y="262.2" width="8.2" height="30.4" fill="#0000ff" stroke="#000" stroke-width="0.9"/>
<rect x="134.4" y="255.7" width="10.2" height="6.5" fill="#fff"/>
<line x1="139.5" y1="234.6" x2="139.5" y2="241.0" stroke="#000" stroke-width="0.9"/>
<line x1="136.9" y1="234.6" x2="142.1" y2="234.6" stroke="#000" stroke-width="0.9"/>
<line x1="136.9" y1="241.0" x2="142.1" y2="241.0" stroke="#000" stroke-width="0.9"/>
<rect x="166.5" y="235.0" width="8.2" height="20.7" fill="#0000ff" stroke="#000" stroke-width="0.9"/>
<rect x="166.5" y="262.2" width="8.2" height="30.4" fill="#0000ff" stroke="#000" stroke-width="0.9"/>
<rect x="165.5" y="255.7" width="10.2" height="6.5" fill="#fff"/>
<line x1="170.6" y1="233.4" x2="170.6" y2="237.0" stroke="#000" stroke-width="0.9"/>
<line x1="168.0" y1="233.4" x2="173.2" y2="233.4" stroke="#000" stroke-width="0.9"/>
<line x1="168.0" y1="237.0" x2="173.2" y2="237.0" stroke="#000" stroke-width="0.9"/>
<rect x="197.5" y="243.6" width="8.2" height="12.1" fill="#0000ff" stroke="#000" stroke-width="0.9"/>
<rect x="197.5" y="262.2" width="8.2" height="30.4" fill="#0000ff" stroke="#000" stroke-width="0.9"/>
<rect x="196.5" y="255.7" width="10.2" height="6.5" fill="#fff"/>
<line x1="201.6" y1="237.2" x2="201.6" y2="250.6" stroke="#000" stroke-width="0.9"/>
<line x1="199.0" y1="237.2" x2="204.2" y2="237.2" stroke="#000" stroke-width="0.9"/>
<line x1="199.0" y1="250.6" x2="204.2" y2="250.6" stroke="#000" stroke-width="0.9"/>
<rect x="228.6" y="249.7" width="8.2" height="6.0" fill="#0000ff" stroke="#000" stroke-width="0.9"/>
<rect x="228.6" y="262.2" width="8.2" height="30.4" fill="#0000ff" stroke="#000" stroke-width="0.9"/>
<rect x="227.6" y="255.7" width="10.2" height="6.5" fill="#fff"/>
<line x1="232.7" y1="247.1" x2="232.7" y2="252.6" stroke="#000" stroke-width="0.9"/>
<line x1="230.1" y1="247.1" x2="235.3" y2="247.1" stroke="#000" stroke-width="0.9"/>
<line x1="230.1" y1="252.6" x2="235.3" y2="252.6" stroke="#000" stroke-width="0.9"/>
<rect x="177.7" y="289.0" width="7.7" height="3.6" fill="#000"/>
<line x1="181.5" y1="285.2" x2="181.5" y2="289.0" stroke="#000" stroke-width="0.9"/>
<line x1="178.9" y1="285.2" x2="184.1" y2="285.2" stroke="#000" stroke-width="0.9"/>
<rect x="239.8" y="289.2" width="7.7" height="3.4" fill="#000"/>
<line x1="243.7" y1="287.4" x2="243.7" y2="289.2" stroke="#000" stroke-width="0.9"/>
<line x1="241.1" y1="287.4" x2="246.2" y2="287.4" stroke="#000" stroke-width="0.9"/>
<line x1="130.0" y1="225.39999999999998" x2="130.0" y2="255.7" stroke="#000" stroke-width="1.1"/>
<line x1="130.0" y1="262.2" x2="130.0" y2="293.1" stroke="#000" stroke-width="1.1"/>
<line x1="127.7" y1="255.7" x2="131.3" y2="255.7" stroke="#000" stroke-width="1.0"/>
<line x1="127.7" y1="262.2" x2="131.3" y2="262.2" stroke="#000" stroke-width="1.0"/>
<line x1="126.1" y1="225.89999999999998" x2="130.0" y2="225.89999999999998" stroke="#000" stroke-width="1.0"/>
<text x="125.7" y="229.0" font-size="8.7" text-anchor="end" fill="#000" stroke="#000" stroke-width="0.3">100</text>
<line x1="126.1" y1="246.7" x2="130.0" y2="246.7" stroke="#000" stroke-width="1.0"/>
<text x="125.7" y="249.8" font-size="8.7" text-anchor="end" fill="#000" stroke="#000" stroke-width="0.3">50</text>
<line x1="126.1" y1="267.5" x2="130.0" y2="267.5" stroke="#000" stroke-width="1.0"/>
<text x="125.7" y="270.6" font-size="8.7" text-anchor="end" fill="#000" stroke="#000" stroke-width="0.3">10</text>
<line x1="126.1" y1="279.9" x2="130.0" y2="279.9" stroke="#000" stroke-width="1.0"/>
<text x="125.7" y="283.0" font-size="8.7" text-anchor="end" fill="#000" stroke="#000" stroke-width="0.3">5</text>
<line x1="126.1" y1="292.6" x2="130.0" y2="292.6" stroke="#000" stroke-width="1.0"/>
<text x="125.7" y="295.7" font-size="8.7" text-anchor="end" fill="#000" stroke="#000" stroke-width="0.3">0</text>
<line x1="129.5" y1="292.6" x2="253.6" y2="292.6" stroke="#000" stroke-width="1.4"/>
<line x1="144.6" y1="292.6" x2="144.6" y2="296.0" stroke="#000" stroke-width="1.0"/>
<line x1="175.7" y1="292.6" x2="175.7" y2="296.0" stroke="#000" stroke-width="1.0"/>
<line x1="206.7" y1="292.6" x2="206.7" y2="296.0" stroke="#000" stroke-width="1.0"/>
<line x1="237.8" y1="292.6" x2="237.8" y2="296.0" stroke="#000" stroke-width="1.0"/>
<text transform="translate(148.2 301.8) rotate(-45)" font-size="10.6" text-anchor="end" stroke="#000" stroke-width="0.18">Untreated</text>
<text transform="translate(179.3 301.8) rotate(-45)" font-size="10.6" text-anchor="end" stroke="#000" stroke-width="0.18">T-cells only</text>
<text transform="translate(210.3 301.8) rotate(-45)" font-size="10.6" text-anchor="end" stroke="#000" stroke-width="0.18">Canonical BiTE</text>
<text transform="translate(241.4 301.8) rotate(-45)" font-size="10.6" text-anchor="end" stroke="#000" stroke-width="0.18">T + Canonical BiTE</text>
<rect x="183.9" y="207.6" width="10.4" height="8.6" fill="#0000ff" stroke="#000" stroke-width="0.9"/>
<rect x="183.5" y="220.6" width="11.2" height="7.6" fill="#000"/>
<text x="198.4" y="215.0" font-size="8.8" text-anchor="start" fill="#000" stroke="#000" stroke-width="0.3">AML cells %</text>
<text x="198.4" y="227.9" font-size="8.8" text-anchor="start" fill="#000" stroke="#000" stroke-width="0.3">T-cells %</text>
<text x="375.8" y="170.6" font-size="10" text-anchor="middle" fill="#000" stroke="#000" stroke-width="0.3">NTPL-146</text>
<line x1="322.9" y1="175.3" x2="322.9" y2="259.1" stroke="#111" stroke-width="1.0"/>
<line x1="322.4" y1="258.70000000000005" x2="448.6" y2="258.70000000000005" stroke="#111" stroke-width="1.0"/>
<line x1="320.6" y1="183.0" x2="323.0" y2="183.0" stroke="#111" stroke-width="0.9"/>
<text x="319.4" y="186.2" font-size="9.1" text-anchor="end" fill="#000" stroke="#000" stroke-width="0.3">100</text>
<line x1="320.6" y1="220.7" x2="323.0" y2="220.7" stroke="#111" stroke-width="0.9"/>
<text x="319.4" y="223.9" font-size="9.1" text-anchor="end" fill="#000" stroke="#000" stroke-width="0.3">50</text>
<line x1="320.6" y1="258.6" x2="323.0" y2="258.6" stroke="#111" stroke-width="0.9"/>
<text x="319.4" y="261.8" font-size="9.1" text-anchor="end" fill="#000" stroke="#000" stroke-width="0.3">0</text>
<line x1="323.0" y1="258.6" x2="323.0" y2="261.0" stroke="#111" stroke-width="0.9"/>
<text x="323.0" y="269.8" font-size="9.1" text-anchor="middle" fill="#000" stroke="#000" stroke-width="0.3">0</text>
<line x1="348.1" y1="258.6" x2="348.1" y2="261.0" stroke="#111" stroke-width="0.9"/>
<text x="348.1" y="269.8" font-size="9.1" text-anchor="middle" fill="#000" stroke="#000" stroke-width="0.3">50</text>
<line x1="373.2" y1="258.6" x2="373.2" y2="261.0" stroke="#111" stroke-width="0.9"/>
<text x="373.2" y="269.8" font-size="9.1" text-anchor="middle" fill="#000" stroke="#000" stroke-width="0.3">100</text>
<line x1="398.3" y1="258.6" x2="398.3" y2="261.0" stroke="#111" stroke-width="0.9"/>
<text x="398.3" y="269.8" font-size="9.1" text-anchor="middle" fill="#000" stroke="#000" stroke-width="0.3">150</text>
<line x1="423.4" y1="258.6" x2="423.4" y2="261.0" stroke="#111" stroke-width="0.9"/>
<text x="423.4" y="269.8" font-size="9.1" text-anchor="middle" fill="#000" stroke="#000" stroke-width="0.3">200</text>
<line x1="448.5" y1="258.6" x2="448.5" y2="261.0" stroke="#111" stroke-width="0.9"/>
<text x="448.5" y="269.8" font-size="9.1" text-anchor="middle" fill="#000" stroke="#000" stroke-width="0.3">250</text>
<text x="385.4" y="283.0" font-size="9" text-anchor="middle" fill="#000" stroke="#000" stroke-width="0.3">Days post cell injection</text>
<text transform="translate(300.6 216) rotate(-90)" font-size="9" text-anchor="middle" stroke="#000" stroke-width="0.3">Percent survival</text>
<path d="M323 183 H389.8 V201.5 H390.8 V220.6 H392.9 V258.6" fill="none" stroke="#ff0000" stroke-width="1.9" stroke-linejoin="miter"/>
<path d="M323 183 H379.8 V195.2 H393.6 V207.5 H448.6" fill="none" stroke="#0000ff" stroke-width="1.9" stroke-linejoin="miter"/>
<path d="M323 181.6 H376 V258.6" fill="none" stroke="#008000" stroke-width="1.9" stroke-linejoin="miter"/>
<path d="M323 183.6 H373.8 V202 H374.5 V221.5 H375.4 V240.4 H387 V258.6" fill="none" stroke="#000" stroke-width="1.9" stroke-linejoin="miter"/>
<line x1="448.4" y1="205.8" x2="448.4" y2="209" stroke="#000" stroke-width="0.8"/>
<line x1="334.2" y1="243" x2="334.2" y2="253" stroke="#000" stroke-width="1.3"/>
<polygon points="331.6,251.6 336.8,251.6 334.2,257" fill="#000"/>
<line x1="302" y1="309.6" x2="312.6" y2="309.6" stroke="#008000" stroke-width="1.8"/>
<polygon points="306.4,309.0 308.4,309.0 307.4,307.4" fill="#000"/>
<text x="316.6" y="313.1" font-size="9.15" text-anchor="start" fill="#000" stroke="#000" stroke-width="0.3">Untreated</text>
<line x1="302" y1="321.5" x2="312.6" y2="321.5" stroke="#ff0000" stroke-width="1.8"/>
<polygon points="306.4,320.9 308.4,320.9 307.4,319.3" fill="#000"/>
<text x="316.6" y="325.0" font-size="9.15" text-anchor="start" fill="#000" stroke="#000" stroke-width="0.3">T-cells</text>
<line x1="302" y1="333.3" x2="312.6" y2="333.3" stroke="#000" stroke-width="1.8"/>
<polygon points="306.4,332.7 308.4,332.7 307.4,331.1" fill="#000"/>
<text x="316.6" y="336.9" font-size="9.15" text-anchor="start" fill="#000" stroke="#000" stroke-width="0.3">Canonical BiTE</text>
<line x1="302" y1="345.2" x2="312.6" y2="345.2" stroke="#0000ff" stroke-width="1.8"/>
<polygon points="306.4,344.6 308.4,344.6 307.4,343.0" fill="#000"/>
<text x="316.6" y="348.8" font-size="9.15" text-anchor="start" fill="#000" stroke="#000" stroke-width="0.3">T + Canonical BiTE</text>
<rect x="397.4" y="292.6" width="71.8" height="57.4" fill="#fff" stroke="#444" stroke-width="0.8"/>
<line x1="397.4" y1="303.8" x2="469.2" y2="303.8" stroke="#444" stroke-width="0.8"/>
<line x1="397.4" y1="315.7" x2="469.2" y2="315.7" stroke="#444" stroke-width="0.8"/>
<line x1="397.4" y1="327.5" x2="469.2" y2="327.5" stroke="#444" stroke-width="0.8"/>
<line x1="397.4" y1="339.3" x2="469.2" y2="339.3" stroke="#444" stroke-width="0.8"/>
<text x="400.8" y="302.0" font-size="9.2" text-anchor="start" fill="#000" stroke="#000" stroke-width="0.3">Median survival</text>
<text x="400.8" y="313.2" font-size="9.2" text-anchor="start" fill="#000" stroke="#000" stroke-width="0.3">106</text>
<text x="400.8" y="325.0" font-size="9.2" text-anchor="start" fill="#000" stroke="#000" stroke-width="0.3">138</text>
<text x="400.8" y="336.8" font-size="9.2" text-anchor="start" fill="#000" stroke="#000" stroke-width="0.3">105</text>
<text x="400.8" y="348.0" font-size="9.2" text-anchor="start" fill="#000" stroke="#000" stroke-width="0.3">Undefined</text>
<defs><linearGradient id="bg" x1="0" y1="0" x2="0" y2="1"><stop offset="0" stop-color="#7aaaf0"/><stop offset="0.5" stop-color="#6299e4"/><stop offset="1" stop-color="#5287d2"/></linearGradient></defs>
<rect x="109.1" y="396.4" width="64.9" height="7.7" rx="0.8" fill="#667" opacity="0.28" filter="url(#bl)"/>
<rect x="109.2" y="395.8" width="64.3" height="7.3" rx="0.7" fill="url(#bg)" stroke="#4873b6" stroke-width="0.6"/>
<rect x="176.1" y="396.4" width="64.6" height="7.7" rx="0.8" fill="#667" opacity="0.28" filter="url(#bl)"/>
<rect x="176.2" y="395.8" width="64.0" height="7.3" rx="0.7" fill="url(#bg)" stroke="#4873b6" stroke-width="0.6"/>
<rect x="242.7" y="396.4" width="64.3" height="7.7" rx="0.8" fill="#667" opacity="0.28" filter="url(#bl)"/>
<rect x="242.8" y="395.8" width="63.7" height="7.3" rx="0.7" fill="url(#bg)" stroke="#4873b6" stroke-width="0.6"/>
<rect x="309.3" y="396.4" width="64.7" height="7.7" rx="0.8" fill="#667" opacity="0.28" filter="url(#bl)"/>
<rect x="309.4" y="395.8" width="64.1" height="7.3" rx="0.7" fill="url(#bg)" stroke="#4873b6" stroke-width="0.6"/>
<rect x="376.0" y="396.4" width="65.5" height="7.7" rx="0.8" fill="#667" opacity="0.28" filter="url(#bl)"/>
<rect x="376.1" y="395.8" width="64.9" height="7.3" rx="0.7" fill="url(#bg)" stroke="#4873b6" stroke-width="0.6"/>
<text x="106.6" y="390.9" font-size="8.9" text-anchor="middle" fill="#000" stroke="#000" stroke-width="0.3">0</text>
<text x="178" y="390.9" font-size="8.9" text-anchor="middle" fill="#000" stroke="#000" stroke-width="0.3">8</text>
<text x="245" y="390.9" font-size="8.9" text-anchor="middle" fill="#000" stroke="#000" stroke-width="0.3">15</text>
<text x="310" y="390.9" font-size="8.9" text-anchor="middle" fill="#000" stroke="#000" stroke-width="0.3">22</text>
<line x1="109.5" y1="406.76" x2="109.5" y2="426.4" stroke="#000" stroke-width="1.8"/>
<polyline points="105.7,413.0 109.5,406.8 113.3,413.0" fill="none" stroke="#000" stroke-width="2.2" stroke-linejoin="miter" stroke-miterlimit="10"/>
<text x="105.9" y="438.6" font-size="9.4" text-anchor="middle" fill="#000" stroke="#000" stroke-width="0.3">AML</text>
<text x="105.9" y="450.1" font-size="9.4" text-anchor="middle" fill="#000" stroke="#000" stroke-width="0.3">cells</text>
<line x1="176.2" y1="406.76" x2="176.2" y2="426.3" stroke="#4f81bd" stroke-width="1.8"/>
<polyline points="172.5,413.0 176.2,406.8 179.9,413.0" fill="none" stroke="#4f81bd" stroke-width="2.2" stroke-linejoin="miter" stroke-miterlimit="10"/>
<line x1="179.8" y1="406.76" x2="179.8" y2="426.5" stroke="#ff0000" stroke-width="1.8"/>
<polyline points="176.1,413.0 179.8,406.8 183.5,413.0" fill="none" stroke="#ff0000" stroke-width="2.2" stroke-linejoin="miter" stroke-miterlimit="10"/>
<line x1="189.9" y1="406.76" x2="189.9" y2="426.5" stroke="#ff0000" stroke-width="1.8"/>
<polyline points="186.2,413.0 189.9,406.8 193.6,413.0" fill="none" stroke="#ff0000" stroke-width="2.2" stroke-linejoin="miter" stroke-miterlimit="10"/>
<line x1="200" y1="406.76" x2="200" y2="426.5" stroke="#ff0000" stroke-width="1.8"/>
<polyline points="196.3,413.0 200,406.8 203.7,413.0" fill="none" stroke="#ff0000" stroke-width="2.2" stroke-linejoin="miter" stroke-miterlimit="10"/>
<line x1="210.1" y1="406.76" x2="210.1" y2="426.5" stroke="#ff0000" stroke-width="1.8"/>
<polyline points="206.4,413.0 210.1,406.8 213.8,413.0" fill="none" stroke="#ff0000" stroke-width="2.2" stroke-linejoin="miter" stroke-miterlimit="10"/>
<line x1="220.3" y1="406.76" x2="220.3" y2="426.5" stroke="#ff0000" stroke-width="1.8"/>
<polyline points="216.6,413.0 220.3,406.8 224.0,413.0" fill="none" stroke="#ff0000" stroke-width="2.2" stroke-linejoin="miter" stroke-miterlimit="10"/>
<line x1="244.6" y1="406.76" x2="244.6" y2="426.5" stroke="#ff0000" stroke-width="1.8"/>
<polyline points="240.9,413.0 244.6,406.8 248.3,413.0" fill="none" stroke="#ff0000" stroke-width="2.2" stroke-linejoin="miter" stroke-miterlimit="10"/>
<line x1="254.7" y1="406.76" x2="254.7" y2="426.5" stroke="#ff0000" stroke-width="1.8"/>
<polyline points="251.0,413.0 254.7,406.8 258.4,413.0" fill="none" stroke="#ff0000" stroke-width="2.2" stroke-linejoin="miter" stroke-miterlimit="10"/>
<line x1="265" y1="406.76" x2="265" y2="426.5" stroke="#ff0000" stroke-width="1.8"/>
<polyline points="261.3,413.0 265,406.8 268.7,413.0" fill="none" stroke="#ff0000" stroke-width="2.2" stroke-linejoin="miter" stroke-miterlimit="10"/>
<line x1="275.1" y1="406.76" x2="275.1" y2="426.5" stroke="#ff0000" stroke-width="1.8"/>
<polyline points="271.4,413.0 275.1,406.8 278.8,413.0" fill="none" stroke="#ff0000" stroke-width="2.2" stroke-linejoin="miter" stroke-miterlimit="10"/>
<line x1="285.4" y1="406.76" x2="285.4" y2="426.5" stroke="#ff0000" stroke-width="1.8"/>
<polyline points="281.7,413.0 285.4,406.8 289.1,413.0" fill="none" stroke="#ff0000" stroke-width="2.2" stroke-linejoin="miter" stroke-miterlimit="10"/>
<line x1="311.7" y1="406.76" x2="311.7" y2="426.5" stroke="#ff0000" stroke-width="1.8"/>
<polyline points="308.0,413.0 311.7,406.8 315.4,413.0" fill="none" stroke="#ff0000" stroke-width="2.2" stroke-linejoin="miter" stroke-miterlimit="10"/>
<line x1="321.4" y1="406.76" x2="321.4" y2="426.5" stroke="#ff0000" stroke-width="1.8"/>
<polyline points="317.7,413.0 321.4,406.8 325.1,413.0" fill="none" stroke="#ff0000" stroke-width="2.2" stroke-linejoin="miter" stroke-miterlimit="10"/>
<line x1="331.3" y1="406.76" x2="331.3" y2="426.5" stroke="#ff0000" stroke-width="1.8"/>
<polyline points="327.6,413.0 331.3,406.8 335.0,413.0" fill="none" stroke="#ff0000" stroke-width="2.2" stroke-linejoin="miter" stroke-miterlimit="10"/>
<line x1="341.4" y1="406.76" x2="341.4" y2="426.5" stroke="#ff0000" stroke-width="1.8"/>
<polyline points="337.7,413.0 341.4,406.8 345.1,413.0" fill="none" stroke="#ff0000" stroke-width="2.2" stroke-linejoin="miter" stroke-miterlimit="10"/>
<line x1="351.9" y1="406.76" x2="351.9" y2="426.5" stroke="#ff0000" stroke-width="1.8"/>
<polyline points="348.2,413.0 351.9,406.8 355.6,413.0" fill="none" stroke="#ff0000" stroke-width="2.2" stroke-linejoin="miter" stroke-miterlimit="10"/>
<text x="161.8" y="433.3" font-size="9.6" text-anchor="start" fill="#4472c4" stroke="#4472c4" stroke-width="0.3">T-cells</text>
<line x1="175.9" y1="439.56" x2="175.9" y2="459.5" stroke="#4f81bd" stroke-width="1.8"/>
<polyline points="172.2,445.8 175.9,439.6 179.6,445.8" fill="none" stroke="#4f81bd" stroke-width="2.2" stroke-linejoin="miter" stroke-miterlimit="10"/>
<line x1="180.0" y1="439.56" x2="180.0" y2="459.5" stroke="#1a7a1a" stroke-width="1.8"/>
<polyline points="176.3,445.8 180.0,439.6 183.7,445.8" fill="none" stroke="#1a7a1a" stroke-width="2.2" stroke-linejoin="miter" stroke-miterlimit="10"/>
<line x1="244.6" y1="439.56" x2="244.6" y2="459.5" stroke="#1a7a1a" stroke-width="1.8"/>
<polyline points="240.9,445.8 244.6,439.6 248.3,445.8" fill="none" stroke="#1a7a1a" stroke-width="2.2" stroke-linejoin="miter" stroke-miterlimit="10"/>
<line x1="311.8" y1="439.56" x2="311.8" y2="459.5" stroke="#1a7a1a" stroke-width="1.8"/>
<polyline points="308.1,445.8 311.8,439.6 315.5,445.8" fill="none" stroke="#1a7a1a" stroke-width="2.2" stroke-linejoin="miter" stroke-miterlimit="10"/>
<text x="161.8" y="468.9" font-size="9.6" text-anchor="start" fill="#4472c4" stroke="#4472c4" stroke-width="0.3">T-cells</text>
<text x="363.6" y="420.2" font-size="9.5" text-anchor="start" fill="#ff0000" stroke="#ff0000" stroke-width="0.3">Canonical BiTE</text>
<text x="323.6" y="451.2" font-size="9.4" text-anchor="start" fill="#1e7b1e" stroke="#1e7b1e" stroke-width="0.3">IgG BiTE</text>
<text transform="translate(67.9 539.3) rotate(-90)" font-size="10.3" text-anchor="middle" stroke="#000" stroke-width="0.3">Percent survival</text>
<path d="M96 497 H119.0 V520.8 H129.4 V545.5 H133.8 V570.2 H137.3 V594.3" fill="none" stroke="#ff00ff" stroke-width="1.3" stroke-linejoin="miter"/>
<path d="M96 497 H119.7 V520.5 H121.4 V529 H124.6 V545 H126.6 V569.2 H128.7 V594.3" fill="none" stroke="#a0522d" stroke-width="1.5" stroke-linejoin="miter"/>
<path d="M96 497 H123 V513 H124.3 V518.6 H129.4 V545.5 H134.1 V562.2 H138.6 V577.8 H142.5 V594.3" fill="none" stroke="#ff0000" stroke-width="1.5" stroke-linejoin="miter"/>
<path d="M96 497 H122.4 V528.9 H128.3 V561.4 H133 V594.3" fill="none" stroke="#0000ff" stroke-width="1.5" stroke-linejoin="miter"/>
<path d="M96 497 H127.5 V512.9 H152.5 V529 H258" fill="none" stroke="#0b7a3b" stroke-width="1.5" stroke-linejoin="miter"/>
<path d="M96 497 H123 V517.2 H129.4 V574 H130.3 V594.3" fill="none" stroke="#000" stroke-width="1.7" stroke-linejoin="miter"/>
<line x1="129.0" y1="530" x2="129.0" y2="572" stroke="#000" stroke-width="1.2"/>
<line x1="96" y1="497" x2="123" y2="497" stroke="#08082a" stroke-width="1.7"/>
<circle cx="127.5" cy="511.6" r="0.9" fill="#000"/>
<circle cx="152.5" cy="528.6" r="0.9" fill="#000"/>
<circle cx="119.4" cy="519.6" r="0.9" fill="#000"/>
<circle cx="124.4" cy="544.4" r="0.9" fill="#000"/>
<circle cx="126.5" cy="568.6" r="0.9" fill="#000"/>
<circle cx="127.9" cy="561.2" r="0.9" fill="#000"/>
<circle cx="124.3" cy="513.2" r="0.9" fill="#000"/>
<circle cx="134.2" cy="560.6" r="0.9" fill="#000"/>
<circle cx="138.5" cy="576.8" r="0.9" fill="#000"/>
<circle cx="129.3" cy="573.4" r="0.9" fill="#000"/>
<circle cx="122.6" cy="516.6" r="0.9" fill="#000"/>
<line x1="258" y1="527.4" x2="258" y2="530.6" stroke="#000" stroke-width="0.9"/>
<line x1="95.8" y1="487.4" x2="95.8" y2="595.0" stroke="#000" stroke-width="1.5"/>
<line x1="95.1" y1="594.3" x2="267.4" y2="594.3" stroke="#000" stroke-width="1.5"/>
<line x1="91.39999999999999" y1="496.9" x2="95.8" y2="496.9" stroke="#000" stroke-width="1.3"/>
<text x="91.0" y="500.7" font-size="10.7" text-anchor="end" fill="#000" stroke="#000" stroke-width="0.3">100</text>
<line x1="91.39999999999999" y1="545.6" x2="95.8" y2="545.6" stroke="#000" stroke-width="1.3"/>
<text x="91.0" y="549.4" font-size="10.7" text-anchor="end" fill="#000" stroke="#000" stroke-width="0.3">50</text>
<line x1="91.39999999999999" y1="594.3" x2="95.8" y2="594.3" stroke="#000" stroke-width="1.3"/>
<text x="91.0" y="598.1" font-size="10.7" text-anchor="end" fill="#000" stroke="#000" stroke-width="0.3">0</text>
<line x1="95.8" y1="594.3" x2="95.8" y2="597.6999999999999" stroke="#000" stroke-width="1.3"/>
<text x="95.8" y="608.8" font-size="10.6" text-anchor="middle" fill="#000" stroke="#000" stroke-width="0.3">0</text>
<line x1="112.9" y1="594.3" x2="112.9" y2="596.5" stroke="#000" stroke-width="1.1"/>
<line x1="130.0" y1="594.3" x2="130.0" y2="597.6999999999999" stroke="#000" stroke-width="1.3"/>
<text x="130.0" y="608.8" font-size="10.6" text-anchor="middle" fill="#000" stroke="#000" stroke-width="0.3">50</text>
<line x1="147.1" y1="594.3" x2="147.1" y2="596.5" stroke="#000" stroke-width="1.1"/>
<line x1="164.2" y1="594.3" x2="164.2" y2="597.6999999999999" stroke="#000" stroke-width="1.3"/>
<text x="164.2" y="608.8" font-size="10.6" text-anchor="middle" fill="#000" stroke="#000" stroke-width="0.3">100</text>
<line x1="181.2" y1="594.3" x2="181.2" y2="596.5" stroke="#000" stroke-width="1.1"/>
<line x1="198.3" y1="594.3" x2="198.3" y2="597.6999999999999" stroke="#000" stroke-width="1.3"/>
<text x="198.3" y="608.8" font-size="10.6" text-anchor="middle" fill="#000" stroke="#000" stroke-width="0.3">150</text>
<line x1="215.4" y1="594.3" x2="215.4" y2="596.5" stroke="#000" stroke-width="1.1"/>
<line x1="232.5" y1="594.3" x2="232.5" y2="597.6999999999999" stroke="#000" stroke-width="1.3"/>
<text x="232.5" y="608.8" font-size="10.6" text-anchor="middle" fill="#000" stroke="#000" stroke-width="0.3">200</text>
<line x1="249.6" y1="594.3" x2="249.6" y2="596.5" stroke="#000" stroke-width="1.1"/>
<line x1="266.7" y1="594.3" x2="266.7" y2="597.6999999999999" stroke="#000" stroke-width="1.3"/>
<text x="266.7" y="608.8" font-size="10.6" text-anchor="middle" fill="#000" stroke="#000" stroke-width="0.3">250</text>
<text x="181.4" y="625.0" font-size="10.8" text-anchor="middle" fill="#000" stroke="#000" stroke-width="0.3">Days post cell injection</text>
<line x1="277" y1="516.3" x2="292.2" y2="516.3" stroke="#000" stroke-width="1.8"/>
<polygon points="283.4,515.7 285.8,515.7 284.6,513.9" fill="#000"/>
<text x="298" y="519.3" font-size="9.3" text-anchor="start" fill="#000" stroke="#000" stroke-width="0.3">Untreated</text>
<line x1="277" y1="529.0" x2="292.2" y2="529.0" stroke="#0000ff" stroke-width="1.8"/>
<polygon points="283.4,528.4 285.8,528.4 284.6,526.6" fill="#000"/>
<text x="298" y="532.0" font-size="9.3" text-anchor="start" fill="#000" stroke="#000" stroke-width="0.3">T-cells</text>
<line x1="277" y1="541.8" x2="292.2" y2="541.8" stroke="#a0522d" stroke-width="1.8"/>
<polygon points="283.4,541.2 285.8,541.2 284.6,539.4" fill="#000"/>
<text x="298" y="544.8" font-size="9.3" text-anchor="start" fill="#000" stroke="#000" stroke-width="0.3">Canonical BiTE</text>
<line x1="277" y1="554.5" x2="292.2" y2="554.5" stroke="#ff0000" stroke-width="1.8"/>
<polygon points="283.4,553.9 285.8,553.9 284.6,552.1" fill="#000"/>
<text x="298" y="557.5" font-size="9.3" text-anchor="start" fill="#000" stroke="#000" stroke-width="0.3">T+ Canonical BiTE</text>
<line x1="277" y1="567.3" x2="292.2" y2="567.3" stroke="#ff00ff" stroke-width="1.8"/>
<polygon points="283.4,566.7 285.8,566.7 284.6,564.9" fill="#000"/>
<text x="298" y="570.3" font-size="9.3" text-anchor="start" fill="#000" stroke="#000" stroke-width="0.3">IgG BiTE</text>
<line x1="277" y1="580.0" x2="292.2" y2="580.0" stroke="#0b7a3b" stroke-width="1.8"/>
<polygon points="283.4,579.4 285.8,579.4 284.6,577.6" fill="#000"/>
<text x="298" y="583.0" font-size="9.3" text-anchor="start" fill="#000" stroke="#000" stroke-width="0.3">T + IgG BiTE</text>
<rect x="380.6" y="496.2" width="88.1" height="90.8" fill="#fff" stroke="#222" stroke-width="0.9"/>
<line x1="380.6" y1="509.3" x2="468.7" y2="509.3" stroke="#222" stroke-width="0.9"/>
<line x1="380.6" y1="522.4" x2="468.7" y2="522.4" stroke="#222" stroke-width="0.9"/>
<line x1="380.6" y1="535.4" x2="468.7" y2="535.4" stroke="#222" stroke-width="0.9"/>
<line x1="380.6" y1="548.3" x2="468.7" y2="548.3" stroke="#222" stroke-width="0.9"/>
<line x1="380.6" y1="561.3" x2="468.7" y2="561.3" stroke="#222" stroke-width="0.9"/>
<line x1="380.6" y1="574.2" x2="468.7" y2="574.2" stroke="#222" stroke-width="0.9"/>
<text x="385.4" y="506.3" font-size="10.3" text-anchor="start" fill="#000" stroke="#000" stroke-width="0.3" font-weight="bold">Median survival</text>
<text x="385.4" y="519.3" font-size="10" text-anchor="start" fill="#000" stroke="#000" stroke-width="0.3">49</text>
<text x="385.4" y="532.5" font-size="10" text-anchor="start" fill="#000" stroke="#000" stroke-width="0.3">47</text>
<text x="385.4" y="545.5" font-size="10" text-anchor="start" fill="#000" stroke="#000" stroke-width="0.3">43.5</text>
<text x="385.4" y="558.3" font-size="10" text-anchor="start" fill="#000" stroke="#000" stroke-width="0.3">49</text>
<text x="385.4" y="571.3" font-size="10" text-anchor="start" fill="#000" stroke="#000" stroke-width="0.3">51.5</text>
<text x="385.4" y="583.8" font-size="10" text-anchor="start" fill="#000" stroke="#000" stroke-width="0.3">Undefined</text>
</g></svg></body></html>
